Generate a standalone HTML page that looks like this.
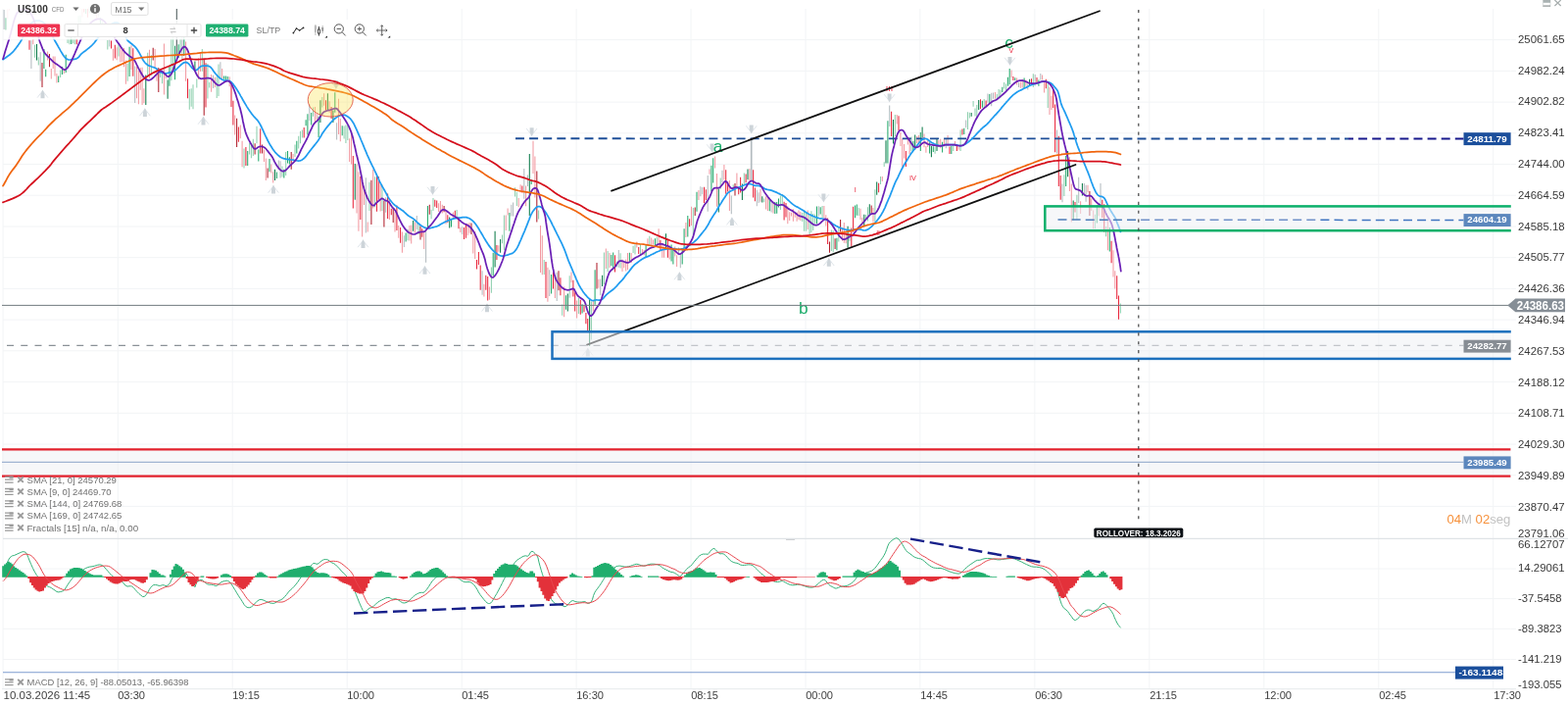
<!DOCTYPE html>
<html lang="es">
<head>
<meta charset="utf-8">
<title>US100 CFD M15</title>
<style>
html,body{margin:0;padding:0;background:#fff;}
body{width:1600px;height:718px;overflow:hidden;font-family:"Liberation Sans", Arial, sans-serif;}
svg{display:block;font-family:"Liberation Sans", Arial, sans-serif;}
</style>
</head>
<body>
<svg width="1600" height="718" viewBox="0 0 1600 718">
<rect width="1600" height="718" fill="#fff"/>
<g stroke="#f2f4f6" stroke-width="1" fill="none">
<path d="M3 9V702"/>
<path d="M120.3 9V702"/>
<path d="M237.2 9V702"/>
<path d="M354.2 9V702"/>
<path d="M471.2 9V702"/>
<path d="M588.1 9V702"/>
<path d="M705 9V702"/>
<path d="M822 9V702"/>
<path d="M938.9 9V702"/>
<path d="M1055.9 9V702"/>
<path d="M1172.8 9V702"/>
<path d="M1289.8 9V702"/>
<path d="M1406.8 9V702"/>
<path d="M1523.7 9V702"/>
<path d="M3 40.6H1541.5"/>
<path d="M3 72.4H1541.5"/>
<path d="M3 104.1H1541.5"/>
<path d="M3 135.8H1541.5"/>
<path d="M3 167.5H1541.5"/>
<path d="M3 199.2H1541.5"/>
<path d="M3 231H1541.5"/>
<path d="M3 262.7H1541.5"/>
<path d="M3 294.4H1541.5"/>
<path d="M3 326.1H1541.5"/>
<path d="M3 357.8H1541.5"/>
<path d="M3 389.6H1541.5"/>
<path d="M3 421.3H1541.5"/>
<path d="M3 453H1541.5"/>
<path d="M3 484.7H1541.5"/>
<path d="M3 516.4H1541.5"/>
<path d="M3 580H1541.5"/>
<path d="M3 610.6H1541.5"/>
<path d="M3 641.3H1541.5"/>
<path d="M3 672.5H1541.5"/>
</g>
<path d="M802 550H811" stroke="#b0b4b8" stroke-width="1.2"/>
<g id="candles">
<path d="M1143.4 309.5V319.5M1128.6 231V241.3M1117.4 218.8V233.3M1098.9 198.8V223.9M1085.9 178.3V200.1M1069.2 85.2V110M1054.3 75.2V88.9M1026.5 85.5V92M1024.6 84V90.4M1020.9 92V99.7M1019.1 91.1V99.2M1017.2 96.1V101.5M1004.2 101V111M996.8 107.1V120.7M995 110.4V118.6M993.1 102.9V108.8M989.4 114.8V120.5M987.5 114.3V132M980.1 132.6V153.9M972.7 147V153.9M954.1 149.7V156.7M930 139.6V154M913.3 117V138.9M902.2 165.2V170M898.5 180V188.1M892.9 193.2V226.4M885.5 211.3V225.4M883.6 218.9V223.2M876.2 212V220.1M866.9 238V245.9M855.8 231.4V246.4M850.2 235.3V257.3M848.4 234.4V255.9M839.1 210.1V222.3M831.7 218.6V228.3M829.8 218V235.1M827.9 215.3V237M826.1 218V238.9M822.4 216.5V235.8M820.5 214.3V235.8M818.7 217V226M798.3 198.1V210.2M796.4 199.5V214M779.7 202.5V206.2M759.3 176.4V188.9M748.2 188.2V193.5M735.2 181.4V192.7M707.3 212.1V239.4M670.2 241.4V251.4M662.8 240.7V250.1M653.5 248.9V259.7M648 249.3V259.6M646.1 250.8V258.1M633.1 258.3V273.6M629.4 266.7V272.2M620.1 256V277.3M616.4 257.6V290M603.4 307.6V346.5M590.4 303.8V320.1M581.2 281.3V303.8M573.7 310.5V321.8M555.2 265V280M549.6 214.4V223.4M527.3 195.7V210.1M525.5 191.3V200.4M514.4 219.4V255.2M512.5 239.4V248.2M501.4 272.5V298.8M466.1 214V222.5M442 201.9V215.1M440.1 213.8V223.2M427.1 227.6V238.9M416 233.9V245.2M390 188.5V215.1M382.6 180.2V211.3M377 185.7V215.1M354.8 128V143.1M352.9 127.5V146.1M351.1 128.6V141.4M328.8 99V109.5M319.5 109.5V118.8M308.4 132.6V140.6M306.5 133.8V146.3M304.7 138.8V151.4M301 147.6V160.1M291.7 155.1V178.9M288 169.5V180.4M262 128.8V146.3M258.3 141.8V159M256.4 146.1V161.3M254.6 145.9V157.6M249 151.4V171.4M223 65.6V97.9M221.2 78.2V99.9M213.7 84.1V89.6M211.9 65V100.5M206.3 50.1V72.7M200.8 80.4V89.5M197 86.3V111.2M195.2 90.3V108.8M193.3 90.8V111.7M184.1 39.1V54.2M176.6 35.7V73.5M174.8 39.6V82.2M165.5 75.1V85.2M163.6 73.2V79M154.4 56.3V76.8M150.7 53.8V78.8M130.2 65.1V82.7M121 45.1V57.6M109.8 40.9V50.6M104.3 21.9V27.3M91.3 9V13.5M82 15.5V26.8M80.1 16.3V26.4M76.4 37.4V45.3M74.6 38.5V44.3M70.9 37.5V45.2M69 38.2V44M61.6 71.4V78.9M39.3 58.3V66.6M35.6 45.8V58.8M5.9 18.3V30.5" stroke="#8fd0af" stroke-width="1.05" fill="none"/>
<path d="M1141.5 301.4V325.8M1139.7 281.3V305.1M1134.1 245.8V268.3M1126.7 208.2V236.4M1124.8 203.8V222M1097 205.9V216.6M1082.2 178.9V203.8M1080.3 138.8V190M1076.6 106.5V155.2M1074.7 91.3V110M1067.3 80.8V90.2M1058 78.9V85.2M1052.5 80.2V85.2M1033.9 78.1V82.1M1006.1 102.6V109.3M1000.5 101.3V110.9M982 131.4V137.6M976.4 148.3V153.9M969 149.5V157.1M924.4 153.9V170M917 118.2V133.3M909.6 113.8V138.9M896.6 186.8V196.3M870.6 210.7V236.4M868.8 232.6V251.4M844.6 222.6V248.9M802 206.9V221.4M800.1 205.7V224.5M770.4 191.4V205.2M768.6 173.2V201.4M761.1 177.4V186.2M755.6 180.8V196.4M753.7 191.7V198.2M742.6 185.4V195.4M740.7 173.2V197.7M720.3 193.3V203.9M718.5 190.8V207.1M703.6 223.2V231.3M681.4 243.9V262.7M673.9 245.1V255.1M651.7 252V258.9M627.5 260.2V277.5M599.7 325.1V337.8M597.9 318.9V330.2M596 311.7V318.2M592.3 305.7V320.8M586.7 298.2V317.6M584.9 285.7V302.6M571.9 283.2V301.3M564.5 277.5V294.4M557 266.9V304.1M532.9 189.5V196.4M506.9 250V265M497.7 281.9V306.4M495.8 280.7V295.7M490.2 270.6V295.7M488.4 257.1V270M486.5 265V274.4M475.4 228.2V242.7M473.5 232V243.9M468 221.4V233.3M464.3 214.8V222.9M456.8 219.2V226.9M445.7 204.4V212M443.8 203.8V210.7M430.8 233.3V241.7M408.6 232V247.7M404.9 209.4V235.1M399.3 212.8V219.2M395.6 197.6V223.1M386.3 180V203.8M384.5 177.7V215.7M367.8 180V223.9M360.3 158.9V212.6M338.1 109.1V121M332.5 102.2V112.6M310.2 129.9V140.4M265.7 131.3V156.4M250.9 150.1V168.9M243.4 129.4V144.8M237.9 102.7V127.5M236 86.4V108.9M210 64.3V109.5M191.5 80.2V100.2M135.8 49.2V77.8M117.3 45.8V59.6M113.5 41.5V49.5M89.4 9V17.8M85.7 9V12.5M78.3 39.2V45.3M30 41.3V50.7" stroke="#e9263c" stroke-width="1.05" fill="none"/>
<path d="M1137.8 276.3V294.5M1136 255.2V282.6M1130.4 225.1V255.2M1121.1 207.9V220.3M1115.6 214.5V233.3M1113.7 202.6V215.1M1110 188.8V196.3M1102.6 205.2V218M1093.3 187.5V226.4M1091.4 160.2V195M1072.9 97.8V111.9M1071 88.8V116.9M1065.5 82.4V94.6M1063.6 76.4V81.4M1046.9 81.4V87.7M1043.2 80.8V89.4M1041.3 83.5V89.7M1037.6 79.5V86.4M1032.1 71.4V78.9M1015.4 94V100.7M978.3 149.5V152.7M974.5 143.9V148.9M967.1 138.1V149.1M963.4 141.7V149.5M959.7 141.8V151.2M957.8 142.9V148.3M946.7 141.5V150.1M944.9 148.9V155.8M943 136.4V150.2M937.4 138V146.8M935.6 138.9V146M928.2 140.3V157.1M926.3 140.2V147.5M922.6 147V161.5M920.7 141.4V170M918.9 135.1V148.9M915.2 117V126.4M900.3 180V185M891 212V226.4M879.9 222V232M878 212.7V223.9M863.2 236.4V248.3M861.3 227V247.7M859.5 232.6V245.8M842.8 219.2V230.6M840.9 210.1V222.6M824.2 214.6V233.9M816.8 215.9V225M815 214.5V223.9M813.1 216.4V225.7M811.2 216.8V221.7M809.4 213.2V225.7M807.5 216.7V220.5M805.7 216.3V225.1M803.8 210.2V228.2M789 207.3V217.6M783.4 200.9V214.9M781.6 200.3V213.4M776 192.7V205.8M764.9 172V183.9M751.9 176.4V190.2M744.4 183.9V215M738.9 167.9V183.3M731.5 177V210.8M729.6 159.4V171.4M724 172.4V177.7M712.9 193.9V203.9M705.5 210.8V230.1M699.9 226.9V242M690.6 260.2V272.1M688.8 251.4V261.4M683.2 250.1V264.5M677.6 251.4V262.7M675.8 248.9V262.7M672.1 233.2V251.4M666.5 244.4V249.8M664.7 242.6V250.1M660.9 243.3V250.8M657.2 255.1V260.2M655.4 253.9V258.9M649.8 246.4V252.6M644.2 257.9V268M640.5 258V275.3M638.7 264.4V276.6M636.8 267.6V273.2M635 264.4V276.9M622 258V273M618.3 253.4V274.1M610.8 284.7V293.8M605.3 306V317.6M588.6 306.4V324.5M583 277.5V288.2M575.6 292.6V323.3M566.3 282.8V304.1M558.9 272.7V307.8M553.3 240.2V280.3M551.5 230.1V277.9M545.9 159.4V201.4M544 143.8V177M536.6 189.5V210.2M531.1 188.3V196.2M529.2 201.9V211.3M518.1 212.4V219.4M516.2 219.5V235.1M508.8 250.3V256.8M499.5 292.6V305.7M493.9 289.7V302.5M484.7 236.1V263.9M482.8 238.6V258.4M479.1 227V237.7M477.2 227.8V240M469.8 231.8V237M462.4 216.4V223.5M455 214.9V228.5M451.3 208.8V217.6M449.4 205.1V216.5M447.6 207.3V215.9M432.7 236.4V253.9M423.4 226.4V237.6M419.7 229.4V248.5M417.9 230V245.6M410.4 236.4V257.7M406.7 230.1V242.7M403 216.3V236.4M397.4 202.6V223.9M388.2 187.7V215.6M380.7 172.7V212.6M375.2 226.6V236.6M371.5 190.2V209M369.6 185.2V241.4M365.9 175.2V235.8M364 167.6V217.6M358.5 135.1V167.6M356.6 141.3V165.1M347.3 121V144.3M345.5 100.8V136.9M336.2 103.2V114.7M330.6 95.2V107.8M323.2 116.1V122.4M321.4 109.1V126.3M299.1 157V162.6M278.7 175.2V186.4M276.8 167.6V176.4M271.3 161.4V183.9M269.4 152.6V165.1M247.1 143.8V170.2M245.3 127.5V141.3M239.7 117.5V137.6M234.2 78.2V88.3M226.7 70.1V80.1M219.3 78.7V89M215.6 75.9V93.7M204.5 53.9V73.1M202.6 59.3V81M189.6 42.6V82.7M169.2 74.5V80.3M167.4 44.4V96.4M159.9 68.9V82.7M158.1 50.1V70.1M152.5 50.7V79.7M146.9 90.2V105.2M145.1 68.8V107M143.2 69V91.8M141.4 71.9V106.2M139.5 67.9V100.2M134 46.3V70.9M128.4 61.4V85.8M126.5 49V68.2M124.7 50.4V63M122.8 48.4V63.5M119.1 48.3V61.3M115.4 49.8V61.7M106.1 24.5V29.8M98.7 11.6V18.7M83.9 9V17.6M65.3 70.1V75.1M57.9 75.1V84.5M56 57.6V77.6M54.2 57.6V70.1M52.3 70.1V80.4M48.6 52.6V61.4M33.8 37.2V45.3M28.2 9V15.6M9.6 9V10.7M7.8 9.3V19.1" stroke="#f29aa2" stroke-width="1.05" fill="none"/>
<path d="M1132.3 232V256.4M1119.3 209.4V227.6M1087.7 158.9V190M1059.9 81.4V87.7M1045.1 79.5V90.2M1035.8 79.2V81.9M1030.2 69.9V86.2M1028.4 78.7V87.7M1022.8 88.8V93.9M1009.8 95.9V105.4M1002.4 102.7V109.8M983.8 130.8V137M970.8 148.9V157.1M961.6 144.8V155.6M952.3 149.3V154.9M948.6 145.2V156.4M939.3 135.1V153.9M931.9 143.9V153.9M905.9 123.2V166.5M874.3 208.6V219.8M872.5 209.5V222.2M853.9 242.7V255.2M837.2 211.3V218.4M833.5 210.5V228.2M794.5 202.6V211.5M792.7 206V217.7M790.8 206V218.1M785.3 203.2V215.2M727.7 161.3V186.4M725.9 168.8V195.2M711 195.8V215.7M701.8 220.1V241.4M698.1 233.2V252.6M696.2 253.3V269.5M686.9 253.9V269.5M685.1 249.5V266.4M668.4 243.2V250.1M659.1 250.1V262M642.4 257.8V266.4M625.7 257.6V275.2M623.8 260V271.3M607.1 275.2V310.7M594.1 310.3V319.6M577.4 301.3V315.8M562.6 280V299.5M542.2 183.1V188.1M519.9 217V235.8M503.2 257.7V281.3M460.5 223.9V231.4M436.4 210.1V232.6M414.1 237.6V246.4M349.2 128.2V138.2M341.8 94.2V114.7M325.1 118.8V140.1M317.7 115V127.5M313.9 116.3V137.6M312.1 122.2V128.2M302.8 143.8V156.4M295.4 160.3V167.5M293.5 153.9V166.4M289.8 172.7V181.4M282.4 175.5V181.9M275 162V175.2M263.8 152.4V164.4M252.7 153.9V168.9M232.3 78.1V81M230.4 77.4V81.7M228.6 77.6V80.8M187.8 37.3V56.9M182.2 45.3V59.1M178.5 46.7V81.3M172.9 67.6V87.7M132.1 47.7V78M108 30.5V37.3M102.4 18.1V27.8M95 9V9.4M93.1 9V9.8M87.6 9V14.1M72.7 37.4V45.1M67.2 55.7V73.9M63.4 68V76.1M59.7 77.6V83.9M46.7 70.8V78.3M44.9 50.1V70.1M26.3 9V13.3" stroke="#23a96c" stroke-width="1.05" fill="none"/>
<path d="M1123 186.9V212.6M1108.1 188.8V205.7M1106.3 186.9V198.8M1100.7 180.8V206.9M1084 187.5V206.3M1078.5 132.6V156.4M1061.8 75.1V81.4M1056.2 76.1V87.4M1048.8 85.2V91.4M1039.5 84.3V89.1M1013.5 94.6V100.8M1011.7 94.7V108.3M1007.9 95.4V104.8M985.7 122.6V130.3M965.3 141V151.3M907.7 107.6V128.9M835.4 210.2V220.4M787.1 203.9V216.5M774.1 196.2V206.9M772.3 193.7V210.2M746.3 199.5V218.2M737 173.8V186.1M722.2 178.9V215.7M716.6 191.1V198.2M714.8 190.2V200.2M694.3 258.9V273.3M692.5 252.4V260.2M631.3 255.1V272.7M612.7 284.6V301.3M568.2 277.8V306.9M560.7 275.2V302M538.5 178.4V189.9M534.8 172V202.7M523.6 206.6V220.5M521.8 208.8V220.6M492.1 276.3V300.7M471.7 231.3V238.9M434.6 233.9V267.7M425.3 220.1V233.9M412.3 240.2V252.1M393.7 201.2V216.8M373.3 181.3V237.6M343.6 125.2V142.5M315.8 106.2V123.1M286.1 164.3V181.4M284.3 163.6V172.9M224.9 63.2V80.1M217.5 76.7V89.9M185.9 37.3V60.3M137.7 67.6V105.1M111.7 40.5V47.5M100.6 9V17.2M96.8 9V14.7M41.2 53.2V82.7M31.9 41.3V70.1M4.1 10V30" stroke="#b3bbbf" stroke-width="1.05" fill="none"/>
<path d="M1111.9 195V220.1M889.2 209.4V217.6M857.6 223.9V236.4M852.1 243.3V253.9M846.5 246.4V257.7M750 187V199.5M709.2 211.5V220M609 268.1V294.4M570 276.3V296.3M547.8 174.5V226.4M481 227.6V238.9M453.1 210.1V216.3M438.3 208.8V218.8M429 230.8V244.5M401.2 212.6V227M391.9 205.1V231.4M378.9 183.8V228.9M297.2 155.1V172.7M273.1 171.4V181.4M267.6 147.6V156.4M260.1 146.3V157.6M241.6 120.7V150M208.2 60.1V117.7M161.8 68.9V93.9M156.2 48.8V61.4M50.5 55.1V68.2M43 63.9V88.9" stroke="#b01f2c" stroke-width="1.05" fill="none"/>
<path d="M1104.4 186.9V199.4M1095.2 204.4V224.5M1089.6 153.9V180.2M1050.6 80.8V87.7M998.7 101.9V112M991.2 115.1V118.8M956 141.4V153.9M950.4 148.9V160.2M941.1 129.5V140.2M933.7 137.6V152.7M911.5 122V146.4M904 143.3V166.5M894.7 185.6V198.8M887.3 208.2V218.8M881.8 218.8V230.1M865.1 230.8V252.7M777.8 200.2V206.4M763 172.6V183.3M757.4 187.6V203.9M733.3 192.7V216.5M679.5 238.2V255.1M614.6 280.8V291.9M601.6 305.7V352.7M579.3 299.5V317.6M540.3 156.9V220M510.6 243.9V257.7M505.1 235.8V272.5M458.7 221.4V232.6M421.6 225.1V235.8M362.2 167V203.8M339.9 112.6V125M334.4 95.2V111.9M326.9 102.2V125M280.5 172.7V183.9M198.9 62.6V72.6M171.1 81.4V100.8M148.8 76.4V107.1M37.5 45.1V61.4" stroke="#0d7c4a" stroke-width="1.05" fill="none"/>
<path d="M766.7 140.7V185.1" stroke="#b3bbbf" stroke-width="1.7" fill="none"/>
<path d="M180.3 9V57.6" stroke="#4d5a5a" stroke-width="1.05" fill="none"/>
</g>
<path d="M38.1 99.6L43.5 92.6L48.9 99.6" stroke="#dfe5ea" stroke-width="1" fill="none"/>
<path d="M43.5 91.4 L45.5 96 L45.5 100.3 L41.5 100.3 L41.5 96Z" fill="#cdd4d9" opacity="1"/>
<path d="M142.5 118.2L147.9 111.2L153.3 118.2" stroke="#dfe5ea" stroke-width="1" fill="none"/>
<path d="M147.9 110 L149.9 114.6 L149.9 118.9 L145.9 118.9 L145.9 114.6Z" fill="#cdd4d9" opacity="1"/>
<path d="M202.1 126.7L207.5 119.7L212.9 126.7" stroke="#dfe5ea" stroke-width="1" fill="none"/>
<path d="M207.5 118.5 L209.5 123.1 L209.5 127.4 L205.5 127.4 L205.5 123.1Z" fill="#cdd4d9" opacity="1"/>
<path d="M273.6 196.7L279 189.7L284.4 196.7" stroke="#dfe5ea" stroke-width="1" fill="none"/>
<path d="M279 188.5 L281 193.1 L281 197.4 L277 197.4 L277 193.1Z" fill="#cdd4d9" opacity="1"/>
<path d="M365.1 252.2L370.5 245.2L375.9 252.2" stroke="#dfe5ea" stroke-width="1" fill="none"/>
<path d="M370.5 244 L372.5 248.6 L372.5 252.9 L368.5 252.9 L368.5 248.6Z" fill="#cdd4d9" opacity="1"/>
<path d="M428.1 279L433.5 272L438.9 279" stroke="#dfe5ea" stroke-width="1" fill="none"/>
<path d="M433.5 270.8 L435.5 275.4 L435.5 279.7 L431.5 279.7 L431.5 275.4Z" fill="#cdd4d9" opacity="1"/>
<path d="M491.6 317.5L497 310.5L502.4 317.5" stroke="#dfe5ea" stroke-width="1" fill="none"/>
<path d="M497 309.3 L499 313.9 L499 318.2 L495 318.2 L495 313.9Z" fill="#cdd4d9" opacity="1"/>
<path d="M594.4 362.7L599.8 355.7L605.2 362.7" stroke="#dfe5ea" stroke-width="1" fill="none"/>
<path d="M599.8 354.5 L601.8 359.1 L601.8 363.4 L597.8 363.4 L597.8 359.1Z" fill="#cdd4d9" opacity="1"/>
<path d="M688 285.2L693.4 278.2L698.8 285.2" stroke="#dfe5ea" stroke-width="1" fill="none"/>
<path d="M693.4 277 L695.4 281.6 L695.4 285.9 L691.4 285.9 L691.4 281.6Z" fill="#cdd4d9" opacity="1"/>
<path d="M741.5 229.4L746.9 222.4L752.3 229.4" stroke="#dfe5ea" stroke-width="1" fill="none"/>
<path d="M746.9 221.2 L748.9 225.8 L748.9 230.1 L744.9 230.1 L744.9 225.8Z" fill="#cdd4d9" opacity="1"/>
<path d="M840.4 271L845.8 264L851.2 271" stroke="#dfe5ea" stroke-width="1" fill="none"/>
<path d="M845.8 262.8 L847.8 267.4 L847.8 271.7 L843.8 271.7 L843.8 267.4Z" fill="#cdd4d9" opacity="1"/>
<path d="M337.5 82.8L342.9 89.8L348.3 82.8" stroke="#dfe5ea" stroke-width="1" fill="none"/>
<path d="M342.9 91 L344.9 86.4 L344.9 82.1 L340.9 82.1 L340.9 86.4Z" fill="#cdd4d9" opacity="1"/>
<path d="M436.1 190.8L441.5 197.8L446.9 190.8" stroke="#dfe5ea" stroke-width="1" fill="none"/>
<path d="M441.5 199 L443.5 194.4 L443.5 190.1 L439.5 190.1 L439.5 194.4Z" fill="#cdd4d9" opacity="1"/>
<path d="M537.2 131L542.6 138L548 131" stroke="#dfe5ea" stroke-width="1" fill="none"/>
<path d="M542.6 139.2 L544.6 134.6 L544.6 130.3 L540.6 130.3 L540.6 134.6Z" fill="#cdd4d9" opacity="1"/>
<path d="M761.3 128.3L766.7 135.3L772.1 128.3" stroke="#dfe5ea" stroke-width="1" fill="none"/>
<path d="M766.7 136.5 L768.7 131.9 L768.7 127.6 L764.7 127.6 L764.7 131.9Z" fill="#cdd4d9" opacity="1"/>
<path d="M835 198.3L840.4 205.3L845.8 198.3" stroke="#dfe5ea" stroke-width="1" fill="none"/>
<path d="M840.4 206.5 L842.4 201.9 L842.4 197.6 L838.4 197.6 L838.4 201.9Z" fill="#cdd4d9" opacity="1"/>
<path d="M902.2 96.2L907.6 103.2L913 96.2" stroke="#dfe5ea" stroke-width="1" fill="none"/>
<path d="M907.6 104.4 L909.6 99.8 L909.6 95.5 L905.6 95.5 L905.6 99.8Z" fill="#cdd4d9" opacity="1"/>
<path d="M1025.1 58.8L1030.5 65.8L1035.9 58.8" stroke="#dfe5ea" stroke-width="1" fill="none"/>
<path d="M1030.5 67 L1032.5 62.4 L1032.5 58.1 L1028.5 58.1 L1028.5 62.4Z" fill="#cdd4d9" opacity="1"/>
<path d="M721.2 147.3L726.6 154.3L732 147.3" stroke="#dfe5ea" stroke-width="1" fill="none"/>
<path d="M726.6 155.5 L728.6 150.9 L728.6 146.6 L724.6 146.6 L724.6 150.9Z" fill="#cdd4d9" opacity="1"/>
<defs><linearGradient id="gA" gradientUnits="userSpaceOnUse" x1="526" y1="0" x2="1493.5" y2="0"><stop offset="0.879" stop-color="#1d4e98"/><stop offset="0.879" stop-color="#17188c"/></linearGradient><linearGradient id="gB" gradientUnits="userSpaceOnUse" x1="1079.5" y1="0" x2="1493.5" y2="0"><stop offset="0.2" stop-color="#4a7bb8"/><stop offset="0.2" stop-color="#6f90c8"/><stop offset="0.637" stop-color="#6f90c8"/><stop offset="0.637" stop-color="#3f74c0"/></linearGradient></defs>
<path d="M526 141.3L1493.5 141.5" stroke="url(#gA)" stroke-width="1.9" stroke-dasharray="9 5.1"/>
<path d="M3.1 60.7 L3.4 60.5 L4 60.1 L4.8 59.6 L5.9 58.8 L7 57.9 L8.2 57.1 L9.4 56.2 L10.7 55.2 L11.9 54.1 L13.2 52.9 L14.4 51.5 L15.7 49.9 L16.9 48.3 L18.2 46.6 L19.4 44.7 L20.7 42.9 L21.8 41 L22.9 39 L23.8 37 L24.7 35 L25.7 33 L26.7 31 L27.9 29 L29.1 27 L30.4 25.3 L31.6 23.9 L32.9 22.9 L34.1 22.1 L35.4 21.6 L36.6 21.2 L37.9 21 L39.1 21 L40.4 21.2 L41.6 21.6 L42.9 22.1 L44.1 22.9 L45.4 23.9 L46.6 25.3 L47.9 27 L49.1 29 L50.3 31 L51.5 33 L52.6 35 L53.6 37 L54.7 39.1 L55.8 41.2 L57 43.3 L58.3 45.5 L59.5 47.7 L60.8 49.9 L62 52.1 L63.3 54.3 L64.5 56.2 L65.6 57.7 L66.6 58.9 L67.5 59.8 L68.5 60.4 L69.6 60.8 L70.8 61 L72.1 60.9 L73.3 60.7 L74.6 60.6 L75.8 60.4 L77.1 60.2 L78.2 59.7 L79.3 59 L80.4 58.1 L81.3 56.9 L82.3 55.7 L83.4 54.7 L84.6 53.7 L85.8 52.7 L87.2 51.7 L88.6 50.6 L90.1 49.4 L91.6 48.2 L93.1 46.9 L94.5 45.5 L95.9 44 L97.1 42.4 L98.4 40.8 L99.6 39.1 L100.9 37.4 L102.1 35.6 L103.4 33.9 L104.8 32.3 L106.2 30.8 L107.8 29.2 L109.2 27.9 L110.8 26.6 L112.2 25.5 L113.8 24.5 L115.2 23.8 L116.6 23.2 L117.9 23 L119.1 23 L120.4 23.4 L121.6 24.3 L122.9 25.6 L124.1 27.4 L125.2 29.4 L126.2 31.5 L127.1 34 L127.9 36.6 L128.8 38.9 L129.8 40.7 L130.9 42 L132.2 43 L133.4 44 L134.7 45 L136 46.1 L137.2 47.2 L138.4 48.4 L139.5 49.7 L140.5 51.2 L141.4 52.7 L142.4 54.4 L143.3 56.1 L144.3 57.9 L145.2 59.8 L146.1 61.4 L147.1 62.8 L148 64 L149 65 L150 65.8 L151.1 66.5 L152.3 67.1 L153.5 67.5 L154.7 68 L155.8 68.4 L156.8 68.7 L157.7 69 L158.7 69.5 L159.6 70.1 L160.6 70.9 L161.5 71.8 L162.5 72.7 L163.6 73.4 L164.8 74 L166 74.4 L167.3 74.7 L168.5 74.8 L169.8 74.8 L171.1 74.5 L172.3 74.2 L173.6 73.9 L174.8 73.6 L176.1 73.2 L177.3 72.6 L178.6 71.8 L179.8 70.8 L181.1 69.5 L182.3 68.3 L183.6 67.1 L184.8 66 L186.1 64.9 L187.3 64.1 L188.4 63.6 L189.4 63.5 L190.3 63.6 L191.3 64.1 L192.2 64.8 L193.1 65.7 L194.1 67 L195.1 68.2 L196.1 69.3 L197.2 70.3 L198.3 71.2 L199.5 71.6 L200.7 71.3 L201.9 70.5 L203.1 69.1 L204.5 68 L205.9 67.3 L207.4 67 L208.9 67 L210.3 67 L211.6 67.2 L212.7 67.4 L213.6 67.8 L214.6 68.3 L215.5 69.2 L216.4 70.3 L217.4 71.7 L218.4 73.2 L219.5 74.6 L220.7 76 L221.9 77.4 L223.2 78.6 L224.4 79.7 L225.7 80.6 L226.9 81.3 L228.2 81.8 L229.4 82.1 L230.7 82.2 L232 82.1 L233.1 82.3 L234.2 82.6 L235.2 83.2 L236.2 84 L237.2 85 L238.3 86.4 L239.5 88 L240.7 89.8 L242 91.8 L243.2 93.8 L244.5 95.9 L245.7 98.1 L247 100.3 L248.2 102.5 L249.5 104.7 L250.8 106.9 L252.1 109.1 L253.5 111.3 L255 113.4 L256.5 115.6 L258 117.5 L259.4 119.2 L260.8 120.7 L262 121.9 L263.2 123.3 L264.3 124.9 L265.3 126.6 L266.3 128.5 L267.3 130.6 L268.4 132.9 L269.5 135.5 L270.8 138.4 L272.1 141 L273.3 143.5 L274.6 145.9 L275.8 148.1 L277.1 150.1 L278.3 152 L279.6 153.7 L280.8 155.3 L282.1 156.7 L283.3 157.9 L284.6 159 L285.8 160 L287.2 160.8 L288.6 161.4 L290.1 161.8 L291.6 162.2 L293.2 162.4 L294.8 162.7 L296.3 162.9 L297.9 163 L299.4 163.2 L300.8 163.5 L302.1 163.7 L303.4 164 L304.6 164.1 L305.9 164 L307.1 163.6 L308.4 162.9 L309.6 162 L310.9 160.9 L312.2 159.4 L313.4 157.7 L314.7 156 L315.9 154.4 L317.2 152.8 L318.4 151.2 L319.7 149.6 L320.9 148.1 L322.2 146.5 L323.4 144.9 L324.7 143.2 L325.9 141.3 L327.2 139.3 L328.4 137.1 L329.7 135.1 L331 133.2 L332.2 131.5 L333.5 129.9 L334.7 128.4 L336 126.9 L337.2 125.4 L338.5 124 L339.7 122.7 L341 121.6 L342.2 120.5 L343.5 119.6 L344.7 118.8 L346 118.1 L347.2 117.7 L348.5 117.4 L349.7 117.2 L350.8 117.2 L351.8 117.4 L352.7 117.7 L353.7 118.2 L354.8 118.9 L356 119.8 L357.3 120.9 L358.4 122.2 L359.5 123.7 L360.6 125.4 L361.5 127.2 L362.5 129.3 L363.6 131.7 L364.8 134.3 L366 137.1 L367.3 140 L368.5 143 L369.8 146 L371.1 149.2 L372.3 152.2 L373.6 155.2 L374.8 158.1 L376.1 160.9 L377.3 163.6 L378.6 166.3 L379.8 168.9 L381.1 171.4 L382.3 174 L383.6 176.7 L384.8 179.4 L386.1 182.2 L387.3 184.9 L388.6 187.4 L389.8 189.7 L391.1 191.9 L392.3 194 L393.3 195.9 L394.3 197.7 L395.1 199.4 L396.1 201.1 L397.1 202.7 L398.3 204.3 L399.5 205.8 L400.8 207.3 L402 208.5 L403.3 209.6 L404.5 210.5 L405.8 211.4 L407 212.3 L408.3 213.1 L409.5 213.9 L410.8 214.8 L412.1 215.8 L413.3 217 L414.6 218.2 L415.8 219.3 L417.1 220.3 L418.3 221 L419.6 221.7 L420.8 222.4 L422.1 223.4 L423.3 224.5 L424.6 225.7 L425.8 226.9 L427.1 228 L428.3 229 L429.6 230 L430.9 230.8 L432.1 231.5 L433.4 232.1 L434.6 232.6 L435.9 232.8 L437.1 232.9 L438.4 232.8 L439.6 232.5 L440.9 232.2 L442.1 231.8 L443.4 231.5 L444.6 231.2 L445.9 230.8 L447.1 230.2 L448.4 229.6 L449.6 228.8 L451 228 L452.4 227.2 L453.9 226.4 L455.4 225.7 L457 225 L458.6 224.3 L460.1 223.8 L461.7 223.3 L463.3 222.9 L464.8 222.6 L466.4 222.4 L468 222.2 L469.5 222.1 L470.9 221.9 L472.2 221.7 L473.5 221.6 L474.7 221.6 L476 221.7 L477.2 222.1 L478.5 222.5 L479.7 223.2 L481 224.1 L482.2 225.1 L483.5 226.4 L484.7 227.8 L486 229.5 L487.2 231.3 L488.5 233.3 L489.7 235.4 L491 237.5 L492.3 239.7 L493.5 241.9 L494.8 244 L496 246 L497.3 248 L498.5 249.9 L499.8 251.6 L501 253.2 L502.3 254.6 L503.5 255.8 L504.8 257 L506 258 L507.3 259 L508.5 259.9 L509.8 260.5 L511.1 260.9 L512.3 261.1 L513.6 261 L514.8 260.8 L516.1 260.5 L517.3 260.2 L518.6 259.8 L519.7 259.4 L520.8 259 L521.9 258.6 L522.8 258.3 L523.7 257.7 L524.7 256.8 L525.6 255.8 L526.6 254.6 L527.5 253.1 L528.4 251.4 L529.4 249.4 L530.3 247.2 L531.3 245 L532.2 242.8 L533.1 240.6 L534.1 238.4 L535.1 236.1 L536.1 233.6 L537.2 230.9 L538.3 228.1 L539.2 225.7 L540 223.8 L540.5 222.4 L540.8 221.4 L541.3 220.4 L541.7 219.3 L542.3 218.2 L542.9 217 L543.6 215.8 L544.4 214.7 L545.3 213.6 L546.2 212.5 L547.1 211.6 L548.1 211 L549 210.7 L550 210.6 L550.9 210.7 L551.8 211.1 L552.8 211.8 L553.7 212.6 L554.7 213.7 L555.6 214.9 L556.5 216.2 L557.5 217.7 L558.3 219.1 L559.1 220.4 L559.8 221.7 L560.5 222.8 L561.2 224.2 L562 225.7 L562.9 227.5 L563.9 229.6 L565 231.7 L566.1 234 L567.3 236.4 L568.5 238.9 L569.8 241.4 L571 243.9 L572.3 246.4 L573.5 248.9 L574.7 251.6 L575.9 254.4 L577 257.3 L578.1 260.4 L579.1 263.2 L580 265.6 L580.9 267.8 L581.7 269.7 L582.5 271.7 L583.4 273.7 L584.3 275.8 L585.2 278 L586.1 280.2 L587.1 282.4 L588 284.6 L589 286.8 L589.9 288.8 L590.8 290.7 L591.8 292.4 L592.7 294 L593.7 295.5 L594.6 296.9 L595.5 298.2 L596.5 299.5 L597.4 300.6 L598.4 301.7 L599.3 302.8 L600.2 303.7 L601.1 304.5 L602 305.2 L602.8 305.8 L603.6 306.3 L604.4 306.5 L605.2 306.6 L606 306.5 L606.7 306.2 L607.6 306 L608.7 305.9 L609.8 306 L611.1 306.1 L612.1 306.1 L613.1 306 L613.9 305.6 L614.5 305.2 L615.2 304.6 L616 303.8 L616.8 302.8 L617.8 301.7 L618.8 300.7 L619.9 299.7 L621.1 298.7 L622.3 297.7 L623.5 296.8 L624.6 296 L625.6 295.2 L626.6 294.4 L627.5 293.5 L628.4 292.6 L629.4 291.6 L630.3 290.5 L631.3 289.4 L632.2 288.4 L633.1 287.4 L634.1 286.5 L635.1 285.4 L636.1 284.1 L637.2 282.7 L638.3 281.1 L639.2 279.9 L640 279 L640.5 278.4 L640.8 278.1 L641.4 277.5 L642.2 276.5 L643.2 275.1 L644.5 273.4 L645.7 271.9 L647 270.5 L648.2 269.4 L649.5 268.5 L650.8 267.5 L652 266.6 L653.3 265.6 L654.5 264.7 L655.8 263.9 L657 263.2 L658.3 262.6 L659.5 262.1 L660.8 261.6 L662 261.1 L663.3 260.5 L664.5 259.8 L665.8 259.2 L667 258.6 L668.3 258 L669.5 257.3 L670.8 256.7 L672.1 256.2 L673.3 255.7 L674.6 255.2 L675.8 254.8 L677.1 254.5 L678.3 254.3 L679.6 254.1 L680.8 254 L682.1 253.8 L683.3 253.6 L684.6 253.5 L685.8 253.5 L687.1 253.5 L688.3 253.7 L689.6 254 L690.9 254.2 L692.1 254.3 L693.4 254.3 L694.6 254.1 L695.9 253.8 L697.1 253.5 L698.4 252.9 L699.6 252.3 L700.9 251.7 L702.1 250.9 L703.4 250.2 L704.6 249.4 L705.9 248.6 L707.1 247.6 L708.4 246.6 L709.6 245.5 L710.9 244.3 L712.2 243 L713.4 241.5 L714.7 239.9 L715.9 238.4 L717.2 236.8 L718.4 235.2 L719.7 233.7 L720.8 232 L721.9 230.3 L723 228.5 L723.9 226.6 L724.9 224.7 L726 222.9 L727.2 221 L728.4 219.1 L729.7 217.2 L731 215.1 L732.2 213 L733.5 210.8 L734.7 208.7 L736 206.7 L737.2 204.7 L738.5 202.8 L739.6 201.2 L740.5 199.8 L741.2 198.7 L741.8 197.8 L742.5 196.9 L743.5 196.2 L744.5 195.5 L745.8 194.8 L747 194.2 L748.3 193.6 L749.5 193 L750.8 192.3 L752.1 191.8 L753.3 191.2 L754.6 190.7 L755.8 190.2 L757.1 189.7 L758.3 189.2 L759.6 188.7 L760.8 188.2 L762 187.8 L763.1 187.6 L764.1 187.5 L765.1 187.6 L766 187.7 L766.9 188 L767.9 188.3 L768.8 188.8 L769.8 189.1 L770.7 189.3 L771.6 189.4 L772.6 189.3 L773.5 189.3 L774.5 189.5 L775.4 189.8 L776.3 190.2 L777.3 190.6 L778.2 191.1 L779.2 191.7 L780.1 192.3 L781.1 192.9 L782.2 193.2 L783.4 193.5 L784.6 193.7 L785.9 193.9 L787.1 194.2 L788.4 194.6 L789.6 195.1 L790.9 195.6 L792.2 196.1 L793.4 196.7 L794.7 197.4 L795.8 197.9 L796.9 198.5 L798 199 L798.9 199.5 L799.9 200.1 L801 201 L802.2 202.1 L803.4 203.3 L804.7 204.5 L805.9 205.7 L807.2 206.8 L808.4 207.9 L809.7 208.9 L811 209.8 L812.2 210.5 L813.5 211.1 L814.7 211.8 L816 212.5 L817.2 213.3 L818.5 214 L819.7 214.8 L821 215.6 L822.2 216.4 L823.5 217.2 L824.6 217.9 L825.7 218.5 L826.7 219 L827.6 219.4 L828.6 219.9 L829.8 220.5 L831.2 221 L832.8 221.7 L834.4 222.2 L835.9 222.6 L837.5 222.8 L839.1 223 L840.5 223.3 L842 223.7 L843.3 224.2 L844.5 224.8 L845.8 225.5 L847 226.3 L848.3 227.1 L849.5 228.1 L850.8 229 L852.1 229.7 L853.3 230.4 L854.6 231.1 L855.8 231.7 L857.1 232.2 L858.3 232.7 L859.6 233.2 L860.9 233.6 L862.3 234 L863.8 234.4 L865.4 234.7 L866.9 234.8 L868.3 234.8 L869.6 234.7 L870.9 234.4 L872.1 234.1 L873.4 234 L874.6 233.9 L875.9 233.9 L877.1 234 L878.4 234.2 L879.6 234.5 L880.9 234.9 L882.1 235 L883.4 234.9 L884.6 234.4 L885.9 233.7 L887.1 232.9 L888.4 231.9 L889.6 230.8 L890.9 229.5 L892.2 228.2 L893.4 226.8 L894.7 225.3 L895.9 223.7 L897.1 222.1 L898.2 220.6 L899.2 219 L900.1 217.4 L901.1 215.7 L902 213.8 L903 211.8 L903.9 209.6 L904.8 207.4 L905.8 205.2 L906.7 203 L907.7 200.8 L908.6 198.6 L909.5 196.2 L910.5 193.8 L911.4 191.3 L912.4 188.9 L913.3 186.7 L914.2 184.7 L915.2 182.8 L916.2 180.8 L917.2 178.6 L918.4 176.2 L919.6 173.7 L920.7 171.5 L921.8 169.5 L922.8 167.7 L923.7 166.2 L924.6 164.7 L925.6 163.2 L926.5 161.6 L927.5 160 L928.4 158.6 L929.3 157.1 L930.3 155.8 L931.2 154.6 L932.2 153.3 L933.1 152.1 L934 150.8 L935 149.5 L935.9 148.3 L936.9 147 L937.8 145.8 L938.7 144.5 L939.7 143.5 L940.6 142.7 L941.6 142.1 L942.5 141.7 L943.4 141.5 L944.1 141.4 L944.8 141.5 L945.5 141.7 L946.2 142.1 L947 142.6 L947.8 143.2 L948.8 144 L949.8 144.7 L950.9 145.4 L952.1 146.1 L953.3 146.7 L954.6 147.3 L955.8 147.7 L957.1 148.1 L958.3 148.5 L959.6 148.6 L960.8 148.6 L962.1 148.4 L963.3 148 L964.6 147.7 L965.8 147.6 L967.1 147.5 L968.3 147.6 L969.6 147.6 L970.9 147.7 L972.1 147.7 L973.4 147.7 L974.6 147.7 L975.9 147.9 L977.1 148.1 L978.4 148.5 L979.5 148.6 L980.6 148.6 L981.7 148.5 L982.6 148.1 L983.5 147.7 L984.5 147.3 L985.4 146.7 L986.4 146.1 L987.4 145.4 L988.5 144.5 L989.6 143.5 L990.9 142.4 L992.2 141.2 L993.4 140 L994.7 138.7 L995.9 137.3 L997.2 135.9 L998.4 134.6 L999.7 133.3 L1000.9 132 L1002.2 130.8 L1003.4 129.7 L1004.7 128.7 L1005.9 127.8 L1007.2 126.7 L1008.4 125.4 L1009.7 124 L1011 122.4 L1012.2 121 L1013.5 119.6 L1014.7 118.2 L1016 117 L1017.2 115.6 L1018.5 114.2 L1019.7 112.7 L1021 111.2 L1022.2 109.6 L1023.5 108.2 L1024.7 106.7 L1026 105.3 L1027.2 103.9 L1028.5 102.5 L1029.7 101.1 L1031 99.7 L1032.3 98.4 L1033.5 97.2 L1034.8 96.1 L1036 95.2 L1037.3 94.3 L1038.5 93.5 L1039.8 92.8 L1041 92.2 L1042.3 91.6 L1043.5 91 L1044.8 90.3 L1046 89.7 L1047.3 89.1 L1048.5 88.5 L1049.8 87.8 L1051.1 87.2 L1052.3 86.7 L1053.6 86.2 L1054.8 85.8 L1056.1 85.5 L1057.3 85.1 L1058.6 84.7 L1059.8 84.3 L1061.1 83.8 L1062.3 83.5 L1063.6 83.3 L1064.8 83.1 L1066.1 83.1 L1067.3 83.3 L1068.6 83.5 L1069.8 83.8 L1071.1 84.3 L1072.3 84.9 L1073.4 85.7 L1074.4 86.7 L1075.3 87.8 L1076.2 88.9 L1077.1 89.9 L1078 91 L1078.8 92.1 L1079.6 93.7 L1080.3 95.9 L1081 98.5 L1081.7 101.6 L1082.4 104.4 L1083.2 106.9 L1084.1 109.1 L1085 111 L1085.9 112.9 L1086.9 115 L1087.8 117.1 L1088.8 119.3 L1089.7 121.5 L1090.6 123.7 L1091.6 125.8 L1092.5 128 L1093.4 130.2 L1094.2 132.2 L1094.9 134.1 L1095.5 136 L1096.1 138 L1096.8 140 L1097.4 142.1 L1098 144.3 L1098.7 146.4 L1099.4 148.5 L1100.1 150.4 L1100.9 152.3 L1101.7 154.3 L1102.5 156.3 L1103.3 158.4 L1104 160.6 L1104.8 162.7 L1105.6 164.8 L1106.4 166.7 L1107.2 168.6 L1108 170.5 L1108.7 172.4 L1109.5 174.2 L1110.3 176.1 L1111 178 L1111.7 179.8 L1112.4 181.7 L1113 183.5 L1113.6 185.3 L1114.3 187 L1114.9 188.6 L1115.5 190.2 L1116.1 191.7 L1116.8 193.1 L1117.4 194.4 L1118 195.7 L1118.6 196.8 L1119.3 197.7 L1119.9 198.5 L1120.5 199.1 L1121.2 199.6 L1121.9 200 L1122.6 200.2 L1123.4 200.3 L1124.2 200.4 L1124.9 200.7 L1125.5 201 L1126.2 201.4 L1126.8 202 L1127.4 202.9 L1128 204 L1128.7 205.5 L1129.3 206.9 L1130 208.4 L1130.8 209.9 L1131.6 211.5 L1132.3 213 L1133.1 214.4 L1133.9 215.7 L1134.7 217 L1135.4 218.1 L1136.1 219.2 L1136.8 220.3 L1137.4 221.2 L1138 222.3 L1138.6 223.4 L1139.1 224.7 L1139.5 226.1 L1140 227.5 L1140.5 228.7 L1141 229.9 L1141.4 231 L1141.9 232 L1142.2 233.1 L1142.6 234 L1142.9 235 L1143.1 235.7 L1143.3 236.2 L1143.4 236.4" stroke="#1f9cf0" stroke-width="1.75" fill="none" stroke-linejoin="round" stroke-linecap="round" />
<path d="M3.1 60.1 L3.3 59.4 L3.7 58 L4.3 55.9 L5.1 53 L5.9 50.4 L6.7 47.9 L7.5 45.5 L8.2 43.3 L9.1 40.6 L10 37.3 L11.1 33.4 L12.2 29.1 L13.2 25.2 L14.1 21.8 L15 18.9 L15.8 16.6 L16.7 14.5 L17.7 12.8 L18.9 11.5 L20.1 10.5 L21.4 9.8 L22.6 9.4 L23.9 9.4 L25.1 9.6 L26.4 10.1 L27.6 10.7 L28.9 11.5 L30.1 12.5 L31.3 13.9 L32.4 15.6 L33.5 17.8 L34.5 20.2 L35.4 22.9 L36.3 25.6 L37.1 28.5 L37.9 31.5 L38.5 34.1 L39 36.2 L39.4 38 L39.7 39.3 L40.1 40.7 L40.5 42.1 L41 43.7 L41.7 45.2 L42.3 46.8 L42.9 48.4 L43.5 49.9 L44.2 51.5 L45 53 L45.9 54.4 L47 55.7 L48.2 57 L49.5 58.2 L50.8 59.5 L52 60.7 L53.3 62 L54.5 63.1 L55.8 64.1 L57 65 L58.3 65.8 L59.4 66.6 L60.5 67.4 L61.6 68.2 L62.5 69 L63.4 69.6 L64.1 70.2 L64.8 70.7 L65.5 71.1 L66.2 71.1 L67 70.8 L67.8 70.1 L68.8 69.1 L69.7 67.9 L70.6 66.5 L71.6 64.8 L72.5 62.9 L73.5 61 L74.4 58.9 L75.3 56.8 L76.3 54.6 L77.2 52.4 L78.2 50.2 L79.1 48 L80 45.8 L80.9 44 L81.6 42.4 L82.2 41.1 L82.6 40.2 L83.1 39.1 L83.7 37.8 L84.3 36.2 L85 34.5 L85.8 32.9 L86.6 31.3 L87.5 29.8 L88.5 28.2 L89.6 26.8 L90.7 25.4 L91.9 24.1 L93.1 22.9 L94.4 21.8 L95.6 20.9 L96.9 20.2 L98.1 19.8 L99.4 19.4 L100.6 19.3 L101.9 19.4 L103.1 19.6 L104.4 20.2 L105.6 21.1 L106.9 22.2 L108.1 23.8 L109.3 25.3 L110.4 26.9 L111.5 28.6 L112.5 30.4 L113.5 32.1 L114.5 33.9 L115.4 35.6 L116.4 37.4 L117.3 39 L118.3 40.5 L119.2 41.9 L120.1 43.2 L121.2 44.6 L122.3 46.2 L123.4 47.9 L124.7 49.8 L125.9 51.4 L127.2 52.9 L128.4 54.2 L129.7 55.3 L131 56.3 L132.2 57.3 L133.5 58.1 L134.7 58.9 L135.8 59.8 L136.7 60.8 L137.5 62 L138.2 63.2 L138.9 64.6 L139.6 66.2 L140.5 67.9 L141.4 69.8 L142.4 71.6 L143.3 73.3 L144.3 75 L145.2 76.5 L146.1 77.9 L147.1 79.1 L148 80.1 L149 80.9 L149.9 81.4 L150.8 81.7 L151.8 81.8 L152.7 81.6 L153.7 81.2 L154.8 80.5 L156 79.5 L157.3 78.3 L158.5 77 L159.8 75.8 L161 74.5 L162.3 73.3 L163.5 72.6 L164.6 72.4 L165.6 72.8 L166.5 73.7 L167.4 74.7 L168.4 75.6 L169.3 76.5 L170.3 77.5 L171.2 78 L172.1 78 L173.1 77.5 L174 76.5 L175 75.1 L175.9 73.3 L176.8 70.9 L177.8 68.1 L178.7 65.3 L179.7 62.7 L180.6 60.1 L181.5 57.6 L182.5 55.3 L183.4 53.3 L184.4 51.6 L185.3 50.1 L186.2 48.9 L187 48.1 L187.7 47.7 L188.3 47.7 L188.9 47.9 L189.5 48.3 L190.2 49 L190.8 49.9 L191.5 51.4 L192.3 53.4 L193.1 56 L194.1 59.2 L195.1 62.2 L196.1 65.2 L197.2 68.1 L198.3 70.9 L199.4 73.4 L200.4 75.5 L201.4 77.2 L202.3 78.6 L203.4 79.6 L204.5 80.2 L205.6 80.4 L206.9 80.2 L208.2 80 L209.6 79.9 L211.1 79.7 L212.7 79.6 L214.1 79.8 L215.4 80.3 L216.4 81.1 L217.4 82.2 L218.4 83.3 L219.4 84.4 L220.4 85.4 L221.5 86.4 L222.6 86.9 L223.7 87 L224.8 86.6 L225.9 85.8 L227.1 85 L228.2 84.3 L229.4 83.6 L230.7 82.9 L231.8 82.6 L232.9 82.6 L233.8 82.9 L234.5 83.6 L235.3 84.5 L236.1 85.6 L236.9 87.1 L237.7 88.8 L238.5 90.8 L239.4 93.1 L240.3 95.6 L241.2 98.5 L242.1 101.4 L243.1 104.3 L244 107.4 L245 110.5 L245.8 113.7 L246.6 117 L247.3 120.3 L247.9 123.7 L248.6 126.8 L249.2 129.6 L249.8 132.1 L250.4 134.3 L251.1 136.4 L251.9 138.4 L252.8 140.4 L253.7 142.3 L254.7 144.1 L255.7 146 L256.8 147.9 L257.9 149.8 L258.9 151.1 L259.8 151.8 L260.7 151.9 L261.5 151.4 L262.2 151 L262.9 150.5 L263.6 150.1 L264.2 149.7 L265 149.5 L265.9 149.4 L267 149.5 L268.3 149.7 L269.5 150.2 L270.6 151 L271.6 152 L272.5 153.2 L273.5 154.4 L274.4 155.6 L275.3 156.8 L276.3 157.9 L277.2 159.2 L278.2 160.8 L279.1 162.6 L280 164.6 L281 166.4 L281.9 168.1 L282.9 169.5 L283.8 170.8 L284.7 171.9 L285.7 172.9 L286.6 173.7 L287.6 174.4 L288.5 174.7 L289.4 174.7 L290.4 174.4 L291.3 173.7 L292.3 172.9 L293.2 172 L294.1 171 L295.1 169.9 L296 168.9 L297 168 L297.9 167.1 L298.8 166.3 L299.8 165.4 L300.7 164.4 L301.7 163.3 L302.6 162 L303.5 160.5 L304.5 158.8 L305.4 156.8 L306.4 154.6 L307.4 152.4 L308.5 150.3 L309.6 148.1 L310.9 145.9 L312.1 143.7 L313.2 141.5 L314.2 139.3 L315.1 137.1 L316.1 134.9 L317 132.8 L318 130.8 L318.9 128.7 L319.9 127 L321 125.5 L322.2 124.3 L323.4 123.3 L324.6 122.2 L325.7 120.8 L326.7 119.3 L327.7 117.6 L328.6 116.2 L329.5 115.1 L330.5 114.3 L331.4 113.8 L332.4 113.4 L333.5 113 L334.7 112.7 L336 112.3 L337.2 112 L338.5 111.6 L339.7 111.2 L341 110.7 L342.1 110.5 L343 110.6 L343.8 110.9 L344.4 111.6 L345.2 112.5 L346.1 113.6 L347.2 115.1 L348.5 116.8 L349.7 118.6 L351 120.5 L352.3 122.5 L353.5 124.5 L354.7 126.6 L355.8 128.7 L356.8 130.8 L357.7 133 L358.6 135.4 L359.4 137.9 L360.1 140.5 L360.7 143.4 L361.3 146.2 L362 149 L362.6 151.8 L363.2 154.6 L363.8 157.4 L364.5 160 L365.1 162.6 L365.7 165.1 L366.4 167.8 L367 170.6 L367.6 173.6 L368.2 176.7 L368.8 179.5 L369.2 181.8 L369.5 183.7 L369.7 185.2 L370.1 186.9 L370.5 188.8 L371 190.8 L371.6 193 L372.3 195.2 L373.1 197.4 L374 199.6 L374.9 201.8 L375.9 203.8 L376.9 205.6 L378 207.2 L379.1 208.6 L380.1 209.4 L381 209.6 L381.9 209.3 L382.7 208.4 L383.5 207.5 L384.4 206.6 L385.3 205.8 L386.2 205 L387.1 204.3 L387.9 203.7 L388.6 203.1 L389.2 202.6 L389.8 202.4 L390.4 202.5 L391.1 202.9 L391.7 203.5 L392.4 204 L393.2 204.4 L394 204.7 L395 204.8 L395.9 205.3 L396.9 206.2 L397.8 207.4 L398.7 209 L399.7 210.4 L400.6 211.6 L401.6 212.7 L402.5 213.7 L403.4 214.8 L404.1 216 L404.8 217.4 L405.5 219 L406.2 220.6 L407 222.4 L407.8 224.2 L408.8 226.1 L409.7 227.8 L410.6 229.5 L411.6 231 L412.5 232.4 L413.5 233.6 L414.4 234.7 L415.3 235.7 L416.3 236.5 L417.3 237.2 L418.4 237.8 L419.6 238.3 L420.8 238.8 L422 239 L423.1 238.9 L424.1 238.6 L425.1 238 L426 237.4 L426.9 237.1 L427.9 236.8 L428.8 236.6 L429.7 236.5 L430.6 236.4 L431.4 236.4 L432.2 236.4 L433 236.2 L433.8 235.7 L434.5 235 L435.3 234 L436.1 233.1 L437 232.2 L437.9 231.2 L438.8 230.3 L439.8 229.3 L440.7 228.2 L441.7 227 L442.6 225.7 L443.5 224.5 L444.5 223.2 L445.4 222 L446.4 220.7 L447.2 219.5 L448 218.3 L448.7 217.2 L449.3 216.1 L450 215.2 L450.7 214.6 L451.5 214.1 L452.2 213.9 L453 213.9 L453.8 214 L454.6 214.4 L455.4 214.9 L456.2 215.5 L457.1 216.2 L458 216.9 L458.9 217.7 L459.8 218.4 L460.8 219 L461.7 219.6 L462.7 220 L463.6 220.5 L464.5 221.1 L465.5 221.7 L466.4 222.3 L467.3 223 L468.3 223.8 L469.2 224.6 L470.2 225.6 L471.1 226.4 L472 227.1 L473 227.7 L473.9 228.2 L474.9 228.6 L475.8 229.1 L476.7 229.6 L477.7 230 L478.6 230.7 L479.6 231.5 L480.5 232.4 L481.4 233.5 L482.4 234.8 L483.3 236.3 L484.3 238 L485.2 239.8 L486.1 241.9 L487.1 244.1 L488 246.4 L489 248.9 L489.9 251.4 L490.8 253.7 L491.8 256 L492.7 258.2 L493.6 260.4 L494.3 262.7 L495 265.1 L495.5 267.6 L496.1 269.9 L496.7 272.1 L497.3 274.1 L498 276 L498.6 277.7 L499.3 279.3 L500.1 280.7 L500.9 281.9 L501.6 282.7 L502.4 283 L503.2 282.9 L504 282.2 L504.8 281.4 L505.7 280.3 L506.6 278.9 L507.5 277.4 L508.4 275.7 L509.3 274 L510.1 272.2 L510.9 270.3 L511.6 268.5 L512.3 266.8 L512.9 265.2 L513.4 263.7 L513.9 262 L514.5 260 L515.1 257.7 L515.8 255.2 L516.5 252.6 L517.2 249.9 L518.1 247.2 L519 244.4 L520 241.6 L520.9 238.7 L521.9 235.9 L522.8 233.1 L523.7 230.3 L524.7 227.5 L525.6 224.6 L526.6 221.8 L527.5 219.3 L528.4 217.1 L529.4 215.2 L530.3 213.7 L531.3 212.1 L532.2 210.5 L533.1 209 L534.1 207.4 L535.1 206 L536.1 204.7 L537.2 203.7 L538.3 202.7 L539.3 201.6 L540.1 200.4 L540.7 199 L541.2 197.5 L541.8 196.1 L542.3 195 L542.9 194 L543.5 193.2 L544.2 192.6 L544.8 192.2 L545.4 191.9 L546.1 191.8 L546.6 191.9 L547.2 192.1 L547.7 192.5 L548.2 193.1 L548.7 194 L549.2 195.4 L549.8 197.2 L550.4 199.4 L551.1 201.7 L551.7 204 L552.3 206.4 L552.9 208.9 L553.6 211.3 L554.2 213.4 L554.8 215.4 L555.5 217.2 L556 219.2 L556.5 221.4 L556.8 223.7 L557.1 226.2 L557.6 229.5 L558.2 233.6 L559 238.5 L560 244.2 L560.8 249.2 L561.4 253.6 L561.9 257.3 L562.3 260.4 L562.6 263.2 L563 265.6 L563.3 267.8 L563.6 269.7 L563.9 271.7 L564.3 273.7 L564.8 275.8 L565.2 278 L565.7 280 L566.2 281.7 L566.6 283.2 L567.1 284.4 L567.7 285.7 L568.4 286.9 L569.2 288.2 L570.2 289.4 L571.1 290.6 L571.9 291.6 L572.8 292.5 L573.5 293.3 L574.4 294 L575.3 294.6 L576.4 295.1 L577.5 295.5 L578.5 295.7 L579.5 295.8 L580.5 295.7 L581.4 295.5 L582.3 295.2 L583.1 294.9 L583.8 294.7 L584.4 294.4 L585 294.5 L585.6 294.8 L586.1 295.4 L586.5 296.3 L587 297.2 L587.5 298.1 L587.9 299 L588.4 299.9 L589 300.8 L589.6 301.6 L590.3 302.3 L591.1 302.9 L591.9 303.5 L592.6 304 L593.4 304.6 L594.2 305 L594.9 305.6 L595.5 306.2 L596.1 306.9 L596.6 307.7 L597 308.7 L597.5 310.1 L598 311.7 L598.4 313.6 L598.9 315.2 L599.4 316.7 L599.9 318 L600.3 319.1 L600.8 320.1 L601.3 320.8 L601.7 321.5 L602.2 321.9 L602.7 322.1 L603.3 322.1 L603.8 321.7 L604.5 321.1 L605.1 320.3 L605.7 319.4 L606.4 318.3 L607 317 L607.7 315.8 L608.5 314.5 L609.3 313.2 L610.3 312 L611.1 310.7 L611.9 309.3 L612.6 307.8 L613.2 306.2 L613.9 304.5 L614.5 302.6 L615.1 300.6 L615.8 298.4 L616.4 296.1 L617 293.7 L617.6 291.3 L618.3 288.8 L618.9 286.5 L619.5 284.3 L620.1 282.2 L620.8 280.4 L621.4 278.7 L622.1 277.4 L622.9 276.4 L623.7 275.6 L624.4 274.8 L625.2 274.1 L626 273.5 L626.8 272.8 L627.5 272.1 L628.2 271.2 L628.9 270.2 L629.5 269.2 L630.2 268.2 L630.8 267.4 L631.4 266.8 L632 266.3 L632.7 266.1 L633.5 266 L634.4 266.1 L635.3 266.4 L636.2 266.7 L637.1 267 L638 267.3 L638.8 267.7 L639.6 267.9 L640.3 267.9 L641 267.9 L641.6 267.7 L642.4 267.3 L643.1 266.8 L644 266.1 L645 265.2 L646 264.4 L647.1 263.7 L648.2 263 L649.5 262.3 L650.8 261.7 L652 261 L653.3 260.2 L654.5 259.4 L655.7 258.7 L656.8 257.9 L657.8 257.1 L658.7 256.3 L659.7 255.6 L660.6 254.9 L661.6 254.2 L662.5 253.6 L663.4 253.1 L664.4 252.7 L665.3 252.4 L666.3 252.2 L667.2 251.9 L668.1 251.5 L669.1 250.8 L670 250 L671 249.4 L671.9 249 L672.8 248.8 L673.8 248.7 L674.7 248.8 L675.7 248.9 L676.6 249.2 L677.5 249.6 L678.5 249.9 L679.4 250.3 L680.4 250.6 L681.3 250.9 L682.2 251.3 L683.2 251.8 L684.1 252.3 L685.1 252.9 L686 253.6 L686.9 254.3 L687.9 255.1 L688.8 255.8 L689.7 256.6 L690.5 257.3 L691.2 258 L691.8 258.6 L692.4 259 L693 259.2 L693.7 259.2 L694.3 259 L695 258.6 L695.8 258 L696.6 257.3 L697.6 256.5 L698.5 255.5 L699.5 254.4 L700.4 253.3 L701.3 252 L702.3 250.7 L703.2 249.3 L704.2 247.8 L705.1 246.2 L706 244.5 L706.8 242.6 L707.5 240.6 L708.1 238.4 L708.7 236.1 L709.3 233.8 L710 231.3 L710.6 228.8 L711.2 226.6 L711.8 224.5 L712.5 222.7 L713.1 221.1 L713.8 219.4 L714.6 217.5 L715.4 215.5 L716.4 213.3 L717.3 211.4 L718.3 209.8 L719.2 208.4 L720.1 207.3 L721 206.1 L721.9 204.9 L722.7 203.5 L723.5 202.1 L724.3 200.6 L725 198.9 L725.8 197 L726.5 195 L727.3 193.5 L728.1 192.4 L729 191.8 L730 191.6 L730.8 191.6 L731.6 191.6 L732.3 191.6 L732.9 191.8 L733.6 191.7 L734.3 191.3 L735.1 190.6 L735.8 189.7 L736.6 188.8 L737.3 187.9 L738 187 L738.6 186.2 L739.2 185.5 L739.7 185.1 L740.2 184.9 L740.7 184.9 L741.2 185.2 L741.8 185.8 L742.3 186.6 L743 187.8 L743.6 188.9 L744.2 189.8 L744.8 190.7 L745.5 191.5 L746.1 192 L746.8 192.2 L747.6 192.1 L748.4 191.7 L749.1 191.4 L749.8 191.2 L750.5 191 L751.1 190.9 L751.8 191 L752.5 191.2 L753.2 191.5 L754 192 L754.8 192.4 L755.5 192.9 L756.1 193.4 L756.8 193.8 L757.4 194 L758.1 193.9 L758.9 193.6 L759.7 193 L760.4 192.2 L761.1 191.2 L761.8 190.2 L762.4 188.9 L763.1 187.8 L763.8 186.8 L764.5 185.9 L765.3 185.2 L766 184.7 L766.7 184.5 L767.4 184.5 L768 184.8 L768.7 185.1 L769.3 185.4 L769.9 185.8 L770.5 186.3 L771.2 186.7 L771.9 186.9 L772.7 187 L773.4 187 L774.2 187.2 L774.9 187.6 L775.6 188.2 L776.2 189 L776.8 190 L777.5 191.1 L778.3 192.5 L779.1 194.1 L779.9 195.6 L780.8 197 L781.7 198.3 L782.6 199.5 L783.5 200.8 L784.5 201.9 L785.4 203.1 L786.4 204.2 L787.3 205.1 L788.2 206 L789.2 206.8 L790.1 207.4 L791 207.9 L791.8 208.4 L792.5 208.8 L793.1 209.1 L793.8 209.3 L794.6 209.3 L795.4 209.2 L796.4 209 L797.2 208.9 L798 208.9 L798.7 209 L799.4 209.2 L800.1 209.6 L800.8 210.1 L801.7 210.7 L802.7 211.5 L803.6 212.2 L804.5 212.9 L805.5 213.4 L806.4 213.9 L807.3 214.4 L808.3 214.9 L809.2 215.5 L810.2 216.2 L811.1 216.8 L811.9 217.5 L812.8 218.2 L813.5 218.9 L814.3 219.5 L815.1 219.9 L815.8 220.3 L816.5 220.4 L817.3 220.7 L818.1 220.9 L819 221.2 L819.9 221.5 L820.9 221.9 L821.8 222.5 L822.8 223.2 L823.7 223.9 L824.6 224.7 L825.6 225.5 L826.5 226.3 L827.5 227.1 L828.4 227.8 L829.3 228.4 L830.3 229 L831.2 229.4 L832.2 229.7 L833.1 229.7 L834 229.4 L835 229 L835.9 228.4 L836.9 227.7 L837.8 226.8 L838.7 225.9 L839.6 225.1 L840.4 224.4 L841.1 223.9 L841.7 223.5 L842.3 223.4 L843 223.5 L843.6 223.8 L844.2 224.3 L844.9 224.9 L845.7 225.7 L846.6 226.5 L847.5 227.5 L848.5 228.6 L849.4 229.8 L850.3 231.2 L851.3 232.8 L852.2 234.3 L853.2 235.8 L854.1 237.3 L855 238.7 L856 240 L856.9 241.1 L857.9 242.2 L858.8 243.1 L859.7 243.8 L860.7 244.1 L861.6 244.1 L862.6 243.8 L863.5 243.4 L864.4 242.9 L865.4 242.3 L866.3 241.7 L867.2 241.2 L868 240.8 L868.7 240.5 L869.3 240.4 L869.9 240 L870.5 239.5 L871.2 238.7 L871.8 237.8 L872.5 236.8 L873.3 235.7 L874.1 234.5 L875.1 233.3 L876 232.1 L877 231 L877.9 230 L878.8 229 L879.8 228 L880.7 227 L881.7 226 L882.6 224.9 L883.5 223.8 L884.5 222.7 L885.4 221.6 L886.4 220.5 L887.2 219.6 L888 218.9 L888.7 218.4 L889.3 218.1 L890 217.9 L890.6 217.8 L891.2 217.8 L891.8 218 L892.5 217.9 L893.1 217.6 L893.7 217 L894.3 216.3 L895 215.3 L895.6 214.2 L896.2 213 L896.9 211.6 L897.5 210.1 L898.1 208.5 L898.7 206.9 L899.4 205.1 L900 203.3 L900.6 201.3 L901.2 199.3 L901.9 197.1 L902.5 194.9 L903.1 192.7 L903.7 190.5 L904.4 188.3 L904.9 186.3 L905.4 184.6 L905.8 183.1 L906.1 181.9 L906.5 179.7 L907 176.6 L907.6 172.6 L908.4 167.6 L909.1 163.3 L909.7 159.6 L910.4 156.4 L911 153.9 L911.6 151.4 L912.3 148.9 L912.9 146.4 L913.5 143.9 L914.1 141.6 L914.8 139.6 L915.4 137.8 L916 136.2 L916.7 135 L917.3 134 L917.9 133.3 L918.5 132.9 L919.2 132.7 L919.8 132.6 L920.4 132.7 L921 132.9 L921.7 133.4 L922.3 134.1 L922.9 135.1 L923.5 136.4 L924.2 137.6 L924.9 138.8 L925.7 139.9 L926.4 141 L927.2 142.1 L927.9 143.1 L928.6 144.1 L929.2 145 L929.8 145.9 L930.4 146.9 L931.1 147.8 L931.7 148.8 L932.4 149.5 L933.2 150 L934 150.3 L935 150.3 L935.8 150.2 L936.6 150 L937.3 149.6 L938 149.1 L938.6 148.5 L939.2 148 L939.8 147.4 L940.5 146.7 L941.1 146.2 L941.7 145.8 L942.3 145.5 L943 145.2 L943.6 145.2 L944.2 145.4 L944.8 145.7 L945.5 146.2 L946.2 146.7 L947 147 L947.8 147.3 L948.8 147.4 L949.7 147.6 L950.6 147.7 L951.6 147.9 L952.5 148.1 L953.5 148.2 L954.4 148.4 L955.3 148.5 L956.3 148.7 L957.2 148.8 L958.2 148.8 L959.1 148.8 L960 148.8 L961 148.6 L961.9 148.5 L962.9 148.2 L963.8 147.9 L964.7 147.7 L965.7 147.5 L966.6 147.5 L967.6 147.6 L968.5 147.6 L969.4 147.6 L970.4 147.6 L971.3 147.5 L972.3 147.5 L973.2 147.6 L974.1 147.7 L975.1 148 L976 148.2 L977 148.4 L977.9 148.5 L978.8 148.7 L979.8 148.7 L980.7 148.6 L981.7 148.5 L982.6 148.1 L983.5 147.7 L984.2 147 L984.9 146.3 L985.6 145.3 L986.2 144.2 L986.8 143 L987.5 141.6 L988.1 140 L988.7 138.4 L989.3 136.9 L990 135.3 L990.6 133.7 L991.2 132.2 L991.8 130.6 L992.5 129 L993.1 127.5 L993.8 125.9 L994.6 124.2 L995.4 122.5 L996.4 120.8 L997.3 119.2 L998.3 117.6 L999.2 116.1 L1000.1 114.7 L1001.1 113.4 L1002 112.3 L1003 111.4 L1003.9 110.6 L1004.8 109.8 L1005.8 109.1 L1006.7 108.3 L1007.7 107.5 L1008.6 106.7 L1009.5 105.9 L1010.5 105.1 L1011.4 104.4 L1012.4 103.7 L1013.3 103.1 L1014.2 102.7 L1015.2 102.4 L1016.1 102 L1017.1 101.4 L1018 100.8 L1018.9 100 L1019.9 99.2 L1020.8 98.4 L1021.8 97.6 L1022.7 96.8 L1023.6 96 L1024.6 95.2 L1025.5 94.3 L1026.5 93.3 L1027.4 92.4 L1028.3 91.4 L1029.3 90.5 L1030.2 89.6 L1031.2 88.6 L1032.1 87.7 L1033 86.7 L1034 85.8 L1034.9 85 L1035.9 84.2 L1036.8 83.6 L1037.7 83.1 L1038.7 82.6 L1039.6 82.3 L1040.6 82.1 L1041.5 82 L1042.4 82 L1043.4 82.1 L1044.3 82.3 L1045.3 82.7 L1046.2 83 L1047.1 83.4 L1048.1 83.8 L1049 84.3 L1050 84.7 L1050.9 84.9 L1051.8 85 L1052.8 85 L1053.7 85 L1054.7 85 L1055.6 85 L1056.5 85 L1057.5 84.9 L1058.4 84.7 L1059.4 84.4 L1060.3 84.1 L1061.2 83.7 L1062.2 83.5 L1063.1 83.2 L1064.1 83 L1065 83 L1065.9 83 L1066.9 83.1 L1067.8 83.4 L1068.8 83.8 L1069.7 84.4 L1070.6 85.2 L1071.6 86.1 L1072.4 87.1 L1073.2 88.2 L1073.9 89.4 L1074.5 90.7 L1075.2 92.1 L1075.8 93.6 L1076.4 95.4 L1077.1 97.2 L1077.6 99.1 L1078 101 L1078.3 102.9 L1078.6 104.7 L1078.8 106.8 L1079.2 109.2 L1079.6 111.7 L1080.1 114.6 L1080.5 117.4 L1081 120.2 L1081.5 123 L1082 125.8 L1082.5 128.7 L1083 131.7 L1083.6 134.8 L1084.2 137.9 L1084.9 141 L1085.6 144.2 L1086.3 147.3 L1087.1 150.4 L1087.9 153.7 L1088.7 157.2 L1089.5 160.8 L1090.3 164.5 L1091 168.1 L1091.7 171.4 L1092.4 174.4 L1093 177.2 L1093.6 180 L1094.2 182.8 L1094.9 185.6 L1095.5 188.4 L1096.2 190.5 L1096.9 192 L1097.8 192.9 L1098.7 193.2 L1099.6 193.4 L1100.4 193.6 L1101.1 193.9 L1101.7 194.1 L1102.3 194.4 L1103 194.9 L1103.6 195.6 L1104.2 196.4 L1104.9 197.1 L1105.6 197.8 L1106.3 198.5 L1107.1 199.1 L1107.9 199.5 L1108.7 199.8 L1109.5 199.8 L1110.3 199.7 L1111 199.6 L1111.7 199.6 L1112.4 199.7 L1113 199.8 L1113.6 200.2 L1114.2 200.7 L1114.9 201.5 L1115.5 202.4 L1116.2 203.3 L1117 204.3 L1117.9 205.2 L1118.8 206.2 L1119.7 207 L1120.7 207.8 L1121.6 208.5 L1122.6 209.1 L1123.4 209.8 L1124.2 210.4 L1124.9 211 L1125.5 211.6 L1126.2 212.5 L1126.8 213.6 L1127.4 214.9 L1128 216.5 L1128.7 218 L1129.4 219.4 L1130.1 220.7 L1130.9 222 L1131.7 223.2 L1132.4 224.5 L1133 225.7 L1133.7 227 L1134.3 228.4 L1134.8 230 L1135.3 231.7 L1135.8 233.6 L1136.3 235.6 L1136.7 237.8 L1137.2 240.2 L1137.7 242.7 L1138.1 245.2 L1138.6 247.7 L1139.1 250.2 L1139.5 252.7 L1140 255.1 L1140.5 257.5 L1141 259.7 L1141.4 261.9 L1141.9 264.3 L1142.3 266.8 L1142.8 269.5 L1143.2 272.4 L1143.5 274.5 L1143.7 276 L1143.8 276.7" stroke="#6a1fb5" stroke-width="1.75" fill="none" stroke-linejoin="round" stroke-linecap="round" />
<path d="M3 189.6 L3 189.5 L3.1 189.4 L3.3 189.2 L3.4 189 L4 188.1 L4.8 186.5 L6.1 184.2 L7.6 181.3 L9.2 178.6 L10.9 176.1 L12.5 173.8 L14.2 171.6 L15.9 169.4 L17.5 167 L19.2 164.4 L20.9 161.7 L22.6 159.1 L24.2 156.7 L25.9 154.5 L27.5 152.4 L29.2 150.4 L30.9 148.4 L32.5 146.5 L34.2 144.6 L36 142.7 L37.9 140.7 L39.9 138.7 L42 136.6 L44 134.5 L45.8 132.5 L47.6 130.6 L49.3 128.7 L51.1 126.8 L53 125 L55 123.1 L57 121.2 L59.2 119.3 L61.5 117.3 L63.9 115.2 L66.4 113.1 L68.8 111.1 L71 109.1 L73 107.2 L74.9 105.4 L76.9 103.4 L79.1 101.3 L81.5 98.9 L84 96.4 L86.5 93.9 L89 91.4 L91.5 88.9 L94 86.4 L96.5 84 L99 81.6 L101.5 79.4 L104 77.2 L106.5 75.2 L109 73.4 L111.5 71.8 L114 70.4 L116.5 69 L119 67.8 L121.6 66.6 L124.1 65.5 L126.6 64.4 L129.1 63.3 L131.6 62.2 L134.1 61.1 L136.7 60.2 L139.6 59.5 L142.5 59 L145.7 58.7 L148.8 58.4 L151.9 58.1 L155.1 57.9 L158.2 57.7 L161.3 57.4 L164.5 57.2 L167.6 57 L170.7 56.7 L173.9 56.5 L177 56.3 L180.1 56.1 L183.3 55.9 L186.4 55.8 L189.4 55.5 L192.5 55.2 L195.5 54.9 L198.2 54.6 L200.7 54.4 L202.8 54.1 L204.7 53.9 L206.7 53.7 L208.9 53.6 L211.3 53.5 L213.8 53.4 L216.4 53.4 L219.3 53.3 L222.2 53.4 L225.4 53.4 L228.2 53.6 L230.7 53.9 L232.9 54.4 L234.8 55.1 L236.8 55.8 L239 56.7 L241.4 57.6 L243.9 58.6 L246.4 59.6 L248.9 60.7 L251.4 61.9 L253.9 63.1 L256.4 64.1 L258.9 65.1 L261.4 65.9 L263.9 66.6 L266.4 67.3 L268.9 68.1 L271.4 69 L273.9 69.9 L276.4 71 L278.9 72.1 L281.5 73.2 L284 74.5 L286.5 75.7 L289 76.9 L291.5 78 L294 79.1 L296.5 80.2 L299 81.3 L301.5 82.4 L304 83.5 L306.2 84.5 L308.1 85.3 L309.6 86 L310.9 86.5 L312.3 87 L313.9 87.5 L315.6 87.9 L317.5 88.2 L319.5 88.5 L321.7 88.9 L324.1 89.2 L326.6 89.6 L329.1 90 L331.6 90.4 L334.1 90.9 L336.6 91.3 L339.1 91.8 L341.6 92.3 L344.1 92.8 L346.6 93.4 L349 93.9 L351.2 94.5 L353.2 95 L355.1 95.6 L357 96.2 L358.8 97 L360.7 97.8 L362.6 98.8 L364.6 99.8 L366.8 101 L369.2 102.3 L371.7 103.7 L374.2 105.1 L376.7 106.5 L379.2 107.9 L381.7 109.3 L384.2 110.8 L386.7 112.3 L389.2 113.8 L391.7 115.4 L393.9 116.8 L395.7 118.2 L397.2 119.5 L398.3 120.7 L399.8 122 L401.6 123.3 L403.8 124.7 L406.2 126.2 L408.8 127.7 L411.2 129.3 L413.8 131 L416.2 132.7 L418.8 134.4 L421.2 136.1 L423.8 137.7 L426.2 139.2 L428.8 140.8 L431.2 142.4 L433.8 144 L436.2 145.5 L438.8 147.1 L441.2 148.6 L443.8 150 L446.2 151.4 L448.8 152.8 L451.2 154.2 L453.8 155.6 L456.2 157 L458.8 158.4 L461.2 159.7 L463.8 161 L466.2 162.2 L468.9 163.6 L471.8 165 L474.8 166.5 L477.9 168 L480.8 169.5 L483.3 170.8 L485.4 171.9 L487.3 173 L489.1 174.1 L491 175.3 L493 176.6 L494.9 177.9 L496.9 179.2 L498.8 180.5 L500.7 181.6 L502.6 182.7 L504.6 183.9 L506.8 185.2 L509.2 186.5 L511.7 187.9 L514.2 189.2 L516.7 190.4 L519.2 191.4 L521.7 192.4 L524.2 193.2 L526.7 193.9 L529.2 194.5 L531.7 195 L534.2 195.4 L536.7 195.8 L539.1 196.2 L541.5 196.5 L543.8 196.9 L545.9 197.3 L547.9 197.7 L549.8 198.2 L551.7 198.8 L553.6 199.5 L555.5 200.3 L557.3 201.3 L559.2 202.2 L561.1 203.2 L563 204.1 L564.8 205 L566.7 205.9 L568.6 206.8 L570.5 207.6 L572.4 208.4 L574.4 209.3 L576.6 210.2 L578.9 211.2 L581.5 212.3 L583.8 213.4 L586 214.5 L588 215.6 L589.9 216.7 L591.8 217.8 L593.6 219 L595.5 220.2 L597.3 221.4 L599.1 222.6 L601 223.7 L602.8 224.8 L604.7 225.9 L606.6 227.1 L608.5 228.2 L610.3 229.4 L612.2 230.7 L614.3 232 L616.4 233.4 L618.8 234.9 L621.3 236.5 L623.8 238 L626.3 239.4 L628.8 240.7 L631.3 242 L633.7 243.1 L635.9 244.2 L637.9 245.2 L639.8 246.1 L641.7 246.8 L643.5 247.4 L645.4 247.8 L647.3 248.2 L649.2 248.4 L651.1 248.7 L652.9 248.9 L654.8 249 L656.7 249.2 L658.6 249.5 L660.5 249.8 L662.3 250.2 L664.2 250.5 L666.1 250.9 L668 251.2 L669.9 251.5 L671.7 251.8 L673.6 252.2 L675.5 252.5 L677.4 252.8 L679.3 253.1 L681.1 253.3 L683 253.6 L684.9 253.8 L686.8 254 L688.7 254.2 L690.5 254.3 L692.4 254.4 L694.3 254.4 L696.2 254.5 L698.1 254.5 L699.9 254.5 L701.8 254.5 L703.7 254.4 L705.6 254.3 L707.5 254.1 L709.5 253.9 L711.7 253.6 L714 253.2 L716.5 252.7 L719 252.3 L721.6 251.9 L724.1 251.5 L726.6 251.2 L729.1 250.9 L731.6 250.5 L734.1 250.2 L736.6 249.8 L739.1 249.5 L741.6 249.2 L744.1 248.9 L746.6 248.6 L749.1 248.3 L751.6 248 L754.1 247.5 L756.6 247.1 L759.1 246.6 L761.7 246.1 L764.2 245.7 L766.7 245.2 L769.2 244.7 L771.7 244.3 L774.2 243.8 L776.7 243.3 L779.2 242.8 L781.7 242.4 L784.2 241.9 L786.7 241.4 L789.2 241 L791.6 240.6 L794.1 240.3 L796.5 240 L798.9 239.7 L801.3 239.6 L803.8 239.5 L806.3 239.5 L808.8 239.6 L811.3 239.8 L813.8 240 L816.3 240.3 L818.8 240.6 L821.4 240.9 L823.9 241.2 L826.4 241.6 L828.7 241.8 L830.9 241.8 L832.9 241.8 L834.8 241.6 L836.7 241.4 L838.6 241.1 L840.5 240.7 L842.3 240.2 L844.2 239.8 L846.1 239.4 L848 239.1 L849.9 238.7 L851.7 238.4 L853.6 238.1 L855.5 237.8 L857.4 237.5 L859.3 237.2 L861.1 236.9 L863 236.5 L864.9 236.2 L866.8 235.8 L868.7 235.4 L870.5 234.8 L872.4 234.2 L874.3 233.5 L876.2 232.8 L878.1 232.1 L879.9 231.3 L881.8 230.6 L883.7 230 L885.6 229.4 L887.5 229 L889.3 228.5 L891.2 228.1 L893.1 227.8 L895 227.5 L896.9 227 L898.7 226.4 L900.6 225.6 L902.5 224.6 L904.4 223.7 L906.3 222.8 L908.1 221.8 L910 220.9 L911.9 219.9 L913.8 219 L915.7 218.1 L917.5 217.1 L919.4 216.2 L921.3 215.3 L923.2 214.4 L925.1 213.6 L926.9 212.8 L928.8 212 L930.7 211.2 L932.6 210.5 L934.4 209.8 L936.3 209 L938.2 208.3 L940.1 207.5 L942 206.7 L943.8 206 L945.7 205.4 L947.6 204.7 L949.5 204.1 L951.4 203.5 L953.2 202.9 L955.1 202.2 L957 201.6 L958.9 201 L960.8 200.4 L962.6 199.7 L964.5 199.1 L966.4 198.4 L968.3 197.6 L970.2 196.8 L972 196.1 L973.8 195.3 L975.6 194.5 L977.4 193.7 L979.3 192.9 L981.4 192.1 L983.8 191.3 L986.2 190.5 L988.8 189.7 L991.2 188.9 L993.8 188.1 L996.2 187.2 L998.8 186.4 L1001.2 185.6 L1003.8 184.8 L1006.2 184 L1008.7 183.2 L1011.1 182.5 L1013.4 181.7 L1015.6 181 L1017.8 180.2 L1020 179.4 L1022.2 178.6 L1024.3 177.7 L1026.4 176.9 L1028.4 176.1 L1030.3 175.3 L1032.2 174.5 L1034.3 173.7 L1036.4 172.8 L1038.8 171.9 L1041.3 171 L1043.8 170 L1046.3 169.1 L1048.8 168.1 L1051.3 167.2 L1053.8 166.3 L1056.3 165.3 L1058.8 164.4 L1061.4 163.4 L1063.7 162.6 L1065.9 161.8 L1067.9 161.1 L1069.8 160.5 L1071.7 159.9 L1073.6 159.4 L1075.5 158.9 L1077.3 158.5 L1079.4 158.1 L1081.6 157.8 L1083.9 157.4 L1086.4 157.1 L1088.9 156.8 L1091.4 156.6 L1093.9 156.5 L1096.4 156.3 L1098.9 156.2 L1101.5 156 L1104 155.8 L1106.5 155.5 L1109 155.3 L1111.5 155.1 L1114 154.9 L1116.5 154.8 L1119 154.7 L1121.5 154.7 L1124 154.6 L1126.5 154.6 L1128.9 154.7 L1131.1 154.8 L1133.1 154.9 L1135 155.1 L1136.7 155.4 L1138.4 155.7 L1139.9 156.1 L1141.3 156.6 L1142.4 157 L1143.1 157.3 L1143.4 157.4" stroke="#f0650e" stroke-width="1.75" fill="none" stroke-linejoin="round" stroke-linecap="round" />
<path d="M3 206.4 L4 206 L5.9 205.3 L8.8 204.1 L12.6 202.6 L15.9 201.1 L18.7 199.7 L20.9 198.4 L22.6 197.1 L24.2 195.8 L25.6 194.4 L27 193 L28.2 191.6 L29.8 189.9 L31.7 188 L33.9 186 L36.4 183.6 L38.9 181.3 L41.4 178.9 L43.9 176.4 L46.4 173.9 L48.5 171.7 L50.4 169.6 L52 167.7 L53.2 166 L54.9 163.9 L57 161.4 L59.5 158.5 L62.4 155.1 L65.1 152 L67.6 149.2 L70 146.7 L72 144.3 L74.1 142 L76.2 139.6 L78.3 137.2 L80.4 134.7 L82.6 132.2 L84.9 129.8 L87.3 127.5 L89.8 125.2 L92.3 122.8 L94.8 120.4 L97.3 118 L99.8 115.5 L101.9 113.5 L103.5 112 L104.7 111.1 L105.4 110.6 L106.5 109.9 L108 109 L109.8 107.7 L112 106.2 L114.3 104.6 L116.6 102.9 L119 101.1 L121.6 99.3 L124.1 97.4 L126.6 95.5 L129.1 93.6 L131.6 91.7 L134.1 89.9 L136.6 88 L139.1 86.1 L141.6 84.2 L144.1 82.4 L146.6 80.6 L149.1 78.8 L151.6 77.1 L154.1 75.5 L156.6 74.1 L159.1 72.9 L161.7 71.8 L164.2 70.7 L166.7 69.7 L169.2 68.7 L171.7 67.8 L174 66.8 L176.2 65.9 L178.3 65 L180.1 64 L181.9 63.2 L183.4 62.4 L184.8 61.7 L186.1 61 L187.3 60.6 L188.6 60.3 L189.8 60.1 L191.1 60.1 L192.5 60.1 L194 60.2 L195.6 60.3 L197.4 60.5 L199.3 60.6 L201.4 60.6 L203.8 60.5 L206.3 60.3 L208.9 60.1 L211.7 60 L214.7 59.7 L217.9 59.5 L221 59.4 L224.1 59.3 L227.3 59.3 L230.4 59.4 L233.4 59.6 L236.2 59.8 L238.8 60 L241.4 60.3 L243.9 60.6 L246.4 61 L248.9 61.4 L251.4 61.9 L253.9 62.3 L256.4 62.7 L258.9 63 L261.4 63.2 L263.9 63.5 L266.4 63.9 L268.9 64.4 L271.4 64.9 L273.9 65.5 L276.4 66.3 L278.9 67.1 L281.5 68.1 L283.6 69 L285.5 69.8 L287.1 70.6 L288.3 71.4 L289.9 72.2 L291.8 73 L294 73.8 L296.5 74.6 L299 75.3 L301.5 76.1 L304 76.9 L306.5 77.7 L309 78.4 L311.5 78.9 L314 79.3 L316.5 79.7 L319 80 L321.6 80.2 L324.1 80.5 L326.6 80.8 L329.1 81 L331.6 81.3 L334.1 81.7 L336.6 82.1 L338.8 82.5 L340.7 82.9 L342.2 83.3 L343.5 83.8 L345.1 84.4 L346.9 85.1 L349.1 85.9 L351.6 86.9 L354.1 87.9 L356.6 89.1 L359.1 90.4 L361.7 91.8 L364.2 93.1 L366.7 94.4 L369.2 95.6 L371.7 96.7 L374.2 97.7 L376.7 98.8 L379.2 99.8 L381.7 100.9 L384.2 101.9 L386.7 103 L389.2 104.2 L391.7 105.3 L393.9 106.4 L395.7 107.2 L397.2 108 L398.3 108.6 L399.8 109.4 L401.6 110.3 L403.8 111.4 L406.2 112.7 L408.8 113.9 L411.2 115.3 L413.8 116.7 L416.2 118.1 L418.8 119.6 L421.2 121.2 L423.8 122.8 L426.2 124.5 L428.8 126.2 L431.2 127.9 L433.8 129.7 L436.2 131.4 L438.8 133.1 L441.2 134.6 L443.8 136 L446.2 137.3 L448.8 138.5 L451.2 139.8 L453.8 141 L456.2 142.3 L458.8 143.5 L461.2 144.6 L463.8 145.8 L466.2 146.9 L468.9 148 L471.8 149.3 L474.8 150.6 L477.9 152 L480.8 153.3 L483.3 154.6 L485.4 155.8 L487.3 156.9 L489.3 158 L491.4 159.2 L493.8 160.5 L496.2 161.8 L498.5 163 L500.5 164.2 L502.3 165.2 L503.9 166.2 L505.5 167.2 L507 168.3 L508.6 169.5 L510.2 170.7 L511.8 171.9 L513.5 173 L515.4 174 L517.2 175 L519.1 175.9 L521 176.7 L522.9 177.5 L524.7 178.3 L526.6 179 L528.5 179.7 L530.4 180.2 L532.3 180.7 L534.1 181.2 L535.8 181.7 L537.4 182.3 L539 182.9 L540.6 183.5 L542.1 184 L543.7 184.4 L545.3 184.7 L546.8 185.1 L548.2 185.5 L549.5 186.1 L550.8 186.7 L552 187.3 L553.3 188 L554.5 188.6 L555.8 189.2 L557 189.9 L558.3 190.7 L559.5 191.6 L560.8 192.5 L562 193.4 L563.3 194.4 L564.5 195.3 L565.8 196.3 L567.2 197.2 L568.8 198.3 L570.5 199.3 L572.4 200.4 L574.4 201.5 L576.6 202.6 L578.9 203.7 L581.5 204.8 L583.8 205.8 L586 206.8 L588 207.6 L589.9 208.4 L591.8 209.3 L593.6 210.3 L595.5 211.4 L597.3 212.6 L599.1 213.7 L601 214.6 L602.8 215.4 L604.7 216 L606.6 216.6 L608.5 217.2 L610.3 217.9 L612.2 218.5 L614.3 219.1 L616.4 219.8 L618.8 220.5 L621.3 221.2 L623.8 221.9 L626.3 222.6 L628.8 223.3 L631.3 224 L633.8 224.8 L636.3 225.7 L638.8 226.7 L641.4 227.8 L643.9 228.9 L646.4 229.9 L648.9 230.9 L651.4 231.8 L653.9 232.8 L656.4 233.8 L658.9 234.9 L661.4 235.9 L663.9 237 L666.4 238.1 L668.9 239.2 L671.4 240.3 L673.9 241.4 L676.4 242.4 L678.9 243.4 L681.5 244.3 L683.8 245.2 L686 246 L688 246.7 L689.9 247.3 L691.6 247.8 L693.2 248.3 L694.6 248.6 L695.9 248.8 L697.3 249 L698.8 249.1 L700.6 249.3 L702.4 249.4 L704.5 249.4 L706.7 249.4 L709 249.4 L711.5 249.3 L714 249.3 L716.5 249.1 L719 249 L721.6 248.9 L724.1 248.7 L726.6 248.4 L729.1 248.2 L731.6 247.8 L734.1 247.5 L736.6 247.2 L739.1 246.9 L741.6 246.6 L744.1 246.3 L746.6 246 L749.1 245.6 L751.6 245.3 L754.1 245 L756.6 244.7 L759.1 244.4 L761.7 244.1 L764.2 243.8 L766.7 243.6 L769.2 243.4 L771.7 243.2 L774.2 243.1 L776.7 243 L779.2 242.8 L781.7 242.7 L784 242.6 L786.2 242.5 L788.1 242.4 L789.9 242.2 L792 242.1 L794.4 241.9 L797.2 241.7 L800.4 241.5 L803.5 241.3 L806.6 241.1 L809.8 241 L812.9 240.9 L816 240.8 L819.2 240.6 L822.3 240.3 L825.4 240 L828.4 239.7 L831.2 239.3 L833.9 238.9 L836.4 238.5 L838.9 238.2 L841.4 238 L843.9 237.9 L846.4 237.9 L848.9 237.9 L851.4 238 L853.9 238 L856.4 238.1 L858.8 238.3 L861 238.5 L863 238.7 L864.9 239.1 L866.8 239.3 L868.7 239.6 L870.5 239.8 L872.4 239.9 L874.2 240.1 L875.9 240.3 L877.6 240.6 L879.2 240.9 L880.8 241.1 L882.5 241.1 L884.3 240.9 L886.2 240.6 L888.1 240.2 L890 239.8 L891.8 239.2 L893.7 238.6 L895.6 237.9 L897.5 237.2 L899.4 236.5 L901.2 235.7 L903.1 234.9 L905 234.1 L906.9 233.3 L908.8 232.6 L910.6 231.7 L912.5 230.9 L914.4 230 L916.3 229 L918.2 228.1 L920 227.1 L921.9 226.2 L923.8 225.3 L925.7 224.3 L927.6 223.4 L929.4 222.4 L931.3 221.5 L933.2 220.5 L935.1 219.5 L937 218.5 L938.8 217.4 L940.7 216.4 L942.6 215.5 L944.5 214.8 L946.4 214.1 L948.2 213.5 L950.1 212.8 L952 212 L953.9 211.2 L955.8 210.5 L957.6 209.8 L959.5 209.1 L961.4 208.5 L963.3 207.9 L965.2 207.3 L967 206.6 L968.9 206 L970.8 205.4 L972.8 204.7 L974.8 204 L976.9 203.3 L979.1 202.5 L981.4 201.6 L983.8 200.6 L986.2 199.5 L988.8 198.4 L991.2 197.2 L993.8 196.1 L996.2 195 L998.8 193.9 L1001.2 192.7 L1003.8 191.6 L1006.2 190.4 L1008.7 189.3 L1011.1 188.2 L1013.4 187.2 L1015.6 186.1 L1017.8 185.1 L1020 184 L1022.2 183 L1024.3 181.9 L1026.4 180.8 L1028.4 179.9 L1030.3 179 L1032.2 178.2 L1034.3 177.4 L1036.4 176.6 L1038.8 175.7 L1041.3 174.7 L1043.8 173.8 L1046.3 172.8 L1048.8 171.9 L1051.3 171 L1053.8 170.1 L1056.3 169.2 L1058.8 168.4 L1061.4 167.6 L1063.7 166.9 L1065.9 166.3 L1067.9 165.7 L1069.8 165.2 L1071.7 164.8 L1073.6 164.5 L1075.5 164.2 L1077.3 164 L1079.4 163.8 L1081.6 163.7 L1083.9 163.7 L1086.4 163.7 L1088.9 163.7 L1091.4 163.8 L1093.9 164 L1096.4 164.2 L1098.9 164.4 L1101.5 164.5 L1104 164.5 L1106.5 164.5 L1109 164.5 L1111.5 164.5 L1114 164.5 L1116.5 164.5 L1118.8 164.6 L1121 164.6 L1123.1 164.7 L1124.9 164.8 L1126.8 164.9 L1128.7 165.2 L1130.6 165.5 L1132.5 165.9 L1134.4 166.2 L1136.3 166.6 L1138.3 167 L1140.4 167.4 L1141.9 167.7 L1142.9 167.9 L1143.4 168" stroke="#d50f1c" stroke-width="1.75" fill="none" stroke-linejoin="round" stroke-linecap="round" />
<text x="727.8" y="154.5" font-size="17.3" fill="#1fae6d" font-weight="normal" text-anchor="start" >a</text>
<text x="814.9" y="320.2" font-size="17.3" fill="#1fae6d" font-weight="normal" text-anchor="start" >b</text>
<text x="1025.3" y="49.1" font-size="17.3" fill="#1fae6d" font-weight="normal" text-anchor="start" >c</text>
<text x="1029.4" y="54.1" font-size="7.4" fill="#e9263c" font-weight="normal" text-anchor="start" textLength="4.7" lengthAdjust="spacingAndGlyphs" >V</text>
<text x="903.8" y="92.6" font-size="7.4" fill="#e9263c" font-weight="normal" text-anchor="start" textLength="7.5" lengthAdjust="spacingAndGlyphs" >III</text>
<text x="871.8" y="196.4" font-size="7.4" fill="#e9263c" font-weight="normal" text-anchor="start" >I</text>
<text x="927.9" y="184.1" font-size="7.4" fill="#e9263c" font-weight="normal" text-anchor="start" textLength="6.9" lengthAdjust="spacingAndGlyphs" >IV</text>
<text x="894.2" y="240.1" font-size="7.4" fill="#e9263c" font-weight="normal" text-anchor="start" textLength="3.8" lengthAdjust="spacingAndGlyphs" >II</text>
<ellipse cx="337.2" cy="101.8" rx="23" ry="17.2" fill="#fae150" fill-opacity="0.35" stroke="#e0523f" stroke-opacity="0.85" stroke-width="1"/>
<path d="M624 194.6L1122 11.2" stroke="#111" stroke-width="1.7" stroke-linecap="round"/>
<path d="M599 351.6L1097.5 168" stroke="#111" stroke-width="1.7" stroke-linecap="round"/>
<path d="M2 311.4H1548" stroke="#737b80" stroke-width="1"/>
<path d="M7 352.3H1493.5" stroke="#8a9197" stroke-width="1.15" stroke-dasharray="7 7.25"/>
<rect x="1066.3" y="210.4" width="500" height="24.8" fill="#eef0f4" fill-opacity="0.55" stroke="#0bb06b" stroke-width="2.5"/>
<path d="M1079.5 224.1L1493.5 224.5" stroke="url(#gB)" stroke-width="1.5" stroke-dasharray="9 5.1"/>
<rect x="563.5" y="338.3" width="1000" height="27.6" fill="#eef0f4" fill-opacity="0.55" stroke="#1d70bd" stroke-width="2.5"/>
<rect x="2" y="458.4" width="1539.5" height="27.2" fill="#eef0f4" fill-opacity="0.55"/>
<path d="M2 458.4H1541.5M2 485.6H1541.5" stroke="#e2202c" stroke-width="2.2"/>
<path d="M2 471.3H1493.5" stroke="#8aa3c8" stroke-width="1"/>
<path d="M1161.8 10V534" stroke="#4a4a4a" stroke-width="1.25" stroke-dasharray="3.1 5.8"/>
<rect x="1541.8" y="0" width="58.5" height="718" fill="#fff"/>
<g stroke="#f2f4f6" stroke-width="1">
<path d="M1541.5 40.6H1547"/>
<path d="M1541.5 72.4H1547"/>
<path d="M1541.5 104.1H1547"/>
<path d="M1541.5 135.8H1547"/>
<path d="M1541.5 167.5H1547"/>
<path d="M1541.5 199.2H1547"/>
<path d="M1541.5 231H1547"/>
<path d="M1541.5 262.7H1547"/>
<path d="M1541.5 294.4H1547"/>
<path d="M1541.5 326.1H1547"/>
<path d="M1541.5 357.8H1547"/>
<path d="M1541.5 389.6H1547"/>
<path d="M1541.5 421.3H1547"/>
<path d="M1541.5 453H1547"/>
<path d="M1541.5 484.7H1547"/>
<path d="M1541.5 516.4H1547"/>
<path d="M1541.5 580H1547"/>
<path d="M1541.5 610.6H1547"/>
<path d="M1541.5 641.3H1547"/>
<path d="M1541.5 672.5H1547"/>
</g>
<path d="M2 702.7H1547" stroke="#e6e9ec" stroke-width="1"/>
<text x="1549" y="43.7" font-size="11.3" fill="#3a3a3a" font-weight="normal" text-anchor="start" textLength="47.6" lengthAdjust="spacingAndGlyphs" >25061.65</text>
<text x="1549" y="75.5" font-size="11.3" fill="#3a3a3a" font-weight="normal" text-anchor="start" textLength="47.6" lengthAdjust="spacingAndGlyphs" >24982.24</text>
<text x="1549" y="107.3" font-size="11.3" fill="#3a3a3a" font-weight="normal" text-anchor="start" textLength="47.6" lengthAdjust="spacingAndGlyphs" >24902.82</text>
<text x="1549" y="139.1" font-size="11.3" fill="#3a3a3a" font-weight="normal" text-anchor="start" textLength="47.6" lengthAdjust="spacingAndGlyphs" >24823.41</text>
<text x="1549" y="170.9" font-size="11.3" fill="#3a3a3a" font-weight="normal" text-anchor="start" textLength="47.6" lengthAdjust="spacingAndGlyphs" >24744.00</text>
<text x="1549" y="202.7" font-size="11.3" fill="#3a3a3a" font-weight="normal" text-anchor="start" textLength="47.6" lengthAdjust="spacingAndGlyphs" >24664.59</text>
<text x="1549" y="234.5" font-size="11.3" fill="#3a3a3a" font-weight="normal" text-anchor="start" textLength="47.6" lengthAdjust="spacingAndGlyphs" >24585.18</text>
<text x="1549" y="266.3" font-size="11.3" fill="#3a3a3a" font-weight="normal" text-anchor="start" textLength="47.6" lengthAdjust="spacingAndGlyphs" >24505.77</text>
<text x="1549" y="298.1" font-size="11.3" fill="#3a3a3a" font-weight="normal" text-anchor="start" textLength="47.6" lengthAdjust="spacingAndGlyphs" >24426.36</text>
<text x="1549" y="329.9" font-size="11.3" fill="#3a3a3a" font-weight="normal" text-anchor="start" textLength="47.6" lengthAdjust="spacingAndGlyphs" >24346.94</text>
<text x="1549" y="361.7" font-size="11.3" fill="#3a3a3a" font-weight="normal" text-anchor="start" textLength="47.6" lengthAdjust="spacingAndGlyphs" >24267.53</text>
<text x="1549" y="393.5" font-size="11.3" fill="#3a3a3a" font-weight="normal" text-anchor="start" textLength="47.6" lengthAdjust="spacingAndGlyphs" >24188.12</text>
<text x="1549" y="425.3" font-size="11.3" fill="#3a3a3a" font-weight="normal" text-anchor="start" textLength="47.6" lengthAdjust="spacingAndGlyphs" >24108.71</text>
<text x="1549" y="457.1" font-size="11.3" fill="#3a3a3a" font-weight="normal" text-anchor="start" textLength="47.6" lengthAdjust="spacingAndGlyphs" >24029.30</text>
<text x="1549" y="488.9" font-size="11.3" fill="#3a3a3a" font-weight="normal" text-anchor="start" textLength="47.6" lengthAdjust="spacingAndGlyphs" >23949.89</text>
<text x="1549" y="520.7" font-size="11.3" fill="#3a3a3a" font-weight="normal" text-anchor="start" textLength="47.6" lengthAdjust="spacingAndGlyphs" >23870.47</text>
<text x="1549" y="547.6" font-size="11.3" fill="#3a3a3a" font-weight="normal" text-anchor="start" textLength="47.6" lengthAdjust="spacingAndGlyphs" >23791.06</text>
<text x="1549" y="559" font-size="11.3" fill="#3a3a3a" font-weight="normal" text-anchor="start" textLength="47.6" lengthAdjust="spacingAndGlyphs" >66.12707</text>
<text x="1549" y="583.2" font-size="11.3" fill="#3a3a3a" font-weight="normal" text-anchor="start" textLength="47.6" lengthAdjust="spacingAndGlyphs" >14.29061</text>
<text x="1549" y="614.2" font-size="11.3" fill="#3a3a3a" font-weight="normal" text-anchor="start" textLength="44.5" lengthAdjust="spacingAndGlyphs" >-37.5458</text>
<text x="1549" y="645.1" font-size="11.3" fill="#3a3a3a" font-weight="normal" text-anchor="start" textLength="44.5" lengthAdjust="spacingAndGlyphs" >-89.3823</text>
<text x="1549" y="675.6" font-size="11.3" fill="#3a3a3a" font-weight="normal" text-anchor="start" textLength="44.5" lengthAdjust="spacingAndGlyphs" >-141.219</text>
<text x="1549" y="701.8" font-size="11.3" fill="#3a3a3a" font-weight="normal" text-anchor="start" textLength="44.5" lengthAdjust="spacingAndGlyphs" >-193.055</text>
<path d="M3 549.4H1600" stroke="#dfe3e6" stroke-width="1.2"/>
<rect x="1493.5" y="135.2" width="48.1" height="12.9" fill="#1b4f9c"/>
<text x="1517.5" y="144.5" font-size="9.9" fill="#fff" font-weight="bold" text-anchor="middle" textLength="40.3" lengthAdjust="spacingAndGlyphs" >24811.79</text>
<rect x="1493.5" y="218.1" width="48.1" height="12.9" fill="#5c87bd"/>
<text x="1517.5" y="227.3" font-size="9.9" fill="#fff" font-weight="bold" text-anchor="middle" textLength="40.3" lengthAdjust="spacingAndGlyphs" >24604.19</text>
<rect x="1493.5" y="346.7" width="48.1" height="12.9" fill="#878d94"/>
<text x="1517.5" y="355.9" font-size="9.9" fill="#fff" font-weight="bold" text-anchor="middle" textLength="40.3" lengthAdjust="spacingAndGlyphs" >24282.77</text>
<rect x="1493.5" y="465.4" width="48.1" height="12.9" fill="#5c87bd"/>
<text x="1517.5" y="474.6" font-size="9.9" fill="#fff" font-weight="bold" text-anchor="middle" textLength="40.3" lengthAdjust="spacingAndGlyphs" >23985.49</text>
<path d="M3 685.8H1485" stroke="#7d9bcf" stroke-width="1.1"/>
<rect x="1485" y="679.6" width="49" height="13" fill="#1b4f9c"/>
<svg x="1485" y="679.6" width="49" height="13" viewBox="1485 679.6 49 13">
<text x="1488.5" y="689.2" font-size="9.9" fill="#fff" font-weight="bold" text-anchor="start" textLength="50.4" lengthAdjust="spacingAndGlyphs" >-163.11483</text>
</svg>
<path d="M1538.3 311.4L1546.4 304.5H1597V318.3H1546.4Z" fill="#868e96"/>
<text x="1547.8" y="315.7" font-size="12" fill="#fff" font-weight="bold" text-anchor="start" textLength="48.2" lengthAdjust="spacingAndGlyphs" >24386.63</text>
<text x="1476.4" y="534.3" font-size="13.2" textLength="65" lengthAdjust="spacingAndGlyphs"><tspan fill="#f6913c">04</tspan><tspan fill="#c2c2c2">M </tspan><tspan fill="#f6913c">02</tspan><tspan fill="#c2c2c2">seg</tspan></text>
<rect x="1116.3" y="538.6" width="91" height="9.6" rx="1.6" fill="#0c1116"/>
<text x="1161.8" y="546.6" font-size="8.4" fill="#fff" font-weight="bold" text-anchor="middle" textLength="86" lengthAdjust="spacingAndGlyphs" >ROLLOVER: 18.3.2026</text>
<path d="M3.1 582 L3.9 580.6 L5.5 577.8 L7 574.6 L8.6 571.2 L10 568.8 L11.3 567.6 L12.7 566.8 L14.3 566.5 L16 565.8 L17.9 564.9 L20.1 563.9 L22.6 562.8 L24.6 562.7 L26.2 563.4 L27.6 565.4 L28.8 568.5 L30.2 572 L31.8 575.7 L33.5 579.5 L35.4 583.2 L37.3 586.4 L39.2 588.9 L41 591.1 L42.9 592.9 L44.8 594.8 L46.7 596.7 L48.6 598 L50.4 598.6 L52.3 599.5 L54.2 600.8 L56.1 602.1 L58 603.5 L59.8 603.9 L61.7 603.5 L63.3 603.1 L64.5 602.8 L65.9 601.4 L67.5 598.9 L69.2 596.2 L71.1 593.4 L72.8 591.1 L74.4 589.2 L76.1 587.3 L78 585.4 L79.9 583.9 L81.8 582.6 L83.6 581.5 L85.5 580.6 L87.4 579.6 L89.3 578.7 L91.5 578.1 L94 577.8 L96.2 577.3 L98.1 576.7 L99.8 576.2 L101.3 575.9 L102.9 576 L104.5 576.7 L106.2 578.1 L108.1 580.3 L110 582.4 L111.8 584.6 L113.7 586.5 L115.6 588.1 L117.8 589.2 L120.3 589.8 L122.5 591.1 L124.4 592.9 L126.3 595 L128.1 597.2 L130 598.1 L131.9 597.8 L133.5 597.8 L134.7 598.1 L136.3 599.4 L138.2 601.6 L140 603.6 L141.9 605.5 L143.8 607.1 L145.7 608.6 L147.6 608.3 L149.4 606.2 L151 603.9 L152.3 601.4 L153.7 599.3 L155.2 597.5 L156.8 596.6 L158.4 596.5 L160.1 596.7 L162 597.3 L163.8 597.3 L165.7 596.7 L167.4 596.8 L169 597.5 L170.6 597.4 L172.1 596.3 L173.6 594.4 L174.8 591.5 L176.1 589.5 L177.3 588.2 L178.9 587.8 L180.8 588.1 L182.6 587.8 L184.5 586.8 L186.4 585.6 L188.3 584 L189.8 584.3 L191.1 586.5 L192.7 589.5 L194.5 593.3 L196.4 596.2 L198.3 598.4 L199.4 598.3 L199.8 595.8 L200.6 594 L201.9 593.1 L203.3 592.2 L204.9 591.2 L206.4 591.5 L208 593.1 L209.7 594.5 L211.6 595.8 L213.5 596.3 L215.4 596.2 L217.5 596.6 L220.1 597.5 L222.2 596.9 L224.1 594.9 L226 593.6 L227.9 592.9 L229.6 592.5 L231.2 592.2 L232.7 592.5 L234.3 593.4 L236 595.5 L237.9 598.6 L239.8 601.7 L241.7 604.8 L243.5 607.8 L245.4 610.6 L247.3 613.6 L249.2 616.8 L251.1 618.8 L252.9 619.7 L254.8 619.7 L256.7 618.8 L258.6 617.2 L260.5 615 L262.3 613.2 L264.2 611.9 L266.1 611.4 L268 611.8 L269.9 612.5 L271.7 613.5 L273.6 614.2 L275.5 614.9 L277.4 615.3 L279.3 615.4 L281.1 614.7 L283 613.4 L284.9 612.4 L286.8 611.7 L288.7 610.5 L290.5 608.6 L292.4 606.4 L294.3 603.9 L296.2 601.9 L298.1 600.3 L299.9 598.4 L301.8 596.2 L303.7 593.7 L305.6 590.9 L307.5 588.2 L309.3 585.7 L311.2 583.4 L313.1 581.2 L315 579.2 L316.9 577.3 L318.4 575.8 L319.7 574.6 L321.2 574.5 L323.1 575.3 L325 574.8 L326.9 572.9 L328.8 571.5 L330.6 570.7 L332.5 570.5 L334.4 570.9 L336 571.7 L337.2 573 L338.8 574 L340.7 574.7 L342.5 576 L344.4 577.9 L346.3 579.9 L348.2 582.1 L350.1 584 L351.9 585.6 L353.8 587.9 L355.7 591.1 L357.6 594.2 L359.5 597.3 L361 600.5 L362.3 603.6 L363.5 606.7 L364.8 609.9 L366 613 L367.3 616.1 L368.7 619.3 L370.3 622.6 L371.7 624 L372.9 623.6 L374.3 622.6 L375.9 621 L377.5 620 L379 619.7 L380.6 618.8 L382.2 617.2 L383.9 615.7 L385.8 614.1 L387.7 612.8 L389.5 611.9 L391.4 611 L393.3 610 L395.2 609.5 L397.1 609.5 L398.5 610 L399.5 611 L400.9 611.2 L402.8 610.7 L404.7 611 L406.6 612.1 L408.5 613.3 L410.3 614.6 L412.2 615 L414.1 614.7 L416 613.8 L417.9 612.2 L419.7 610.5 L421.6 608.6 L423.5 607 L425.4 605.8 L427.3 604.9 L429.1 604.4 L430.7 604.3 L432 604.4 L433.5 603.4 L435.4 601.2 L437.3 598.6 L439.2 595.5 L441 592.8 L442.9 590.6 L444.8 589 L446.7 588.1 L448.9 587.8 L451.4 588.1 L453.6 588.4 L455.5 588.7 L457.3 588.9 L459.2 589.1 L461.1 589 L463 588.7 L464.8 588.8 L466.7 589.3 L468.6 590.3 L470.5 591.8 L472.4 592.9 L474.2 593.6 L476.1 593.7 L478 593.4 L479.9 593.7 L481.8 594.7 L483.6 596.4 L485.5 598.9 L487.1 601.4 L488.3 603.9 L489.9 606.4 L491.8 608.9 L493.7 611.3 L495.6 613.5 L497.1 614.9 L498.4 615.5 L499.6 615.5 L500.9 614.9 L502.1 613.5 L503.4 611.3 L504.9 608.6 L506.8 605.5 L508.7 602 L510.6 598.3 L512.5 594.5 L514.3 590.8 L516.2 587.5 L518.1 584.6 L520 581.8 L521.9 579 L523.7 576.2 L525.6 573.4 L527.5 571.3 L529.4 570.1 L531.6 568.7 L534.1 567.3 L536.3 566.8 L538.2 567.3 L539.9 566.1 L541.4 563.1 L543 562.1 L544.6 563.2 L546.1 564.6 L547.7 566.2 L549 569 L549.9 573.1 L551 577.3 L552.3 581.7 L553.5 585.7 L554.8 589.5 L556 593.6 L557.3 598 L558.8 602.7 L560.7 607.7 L562.6 611.4 L564.5 613.9 L566.4 615.5 L568.2 616.1 L570.1 616.6 L572 616.9 L573.9 617.6 L575.8 618.7 L577.5 618.5 L579 617.1 L580.8 615.3 L582.6 613.2 L584.7 612.5 L586.9 613.5 L589.2 614 L591.7 614.1 L593.9 614 L595.8 613.5 L597.6 613.9 L599.2 615.2 L600.9 615.3 L602.8 614.4 L604.4 611.7 L605.6 607.4 L606.9 604.2 L608.1 602.3 L609.7 600.2 L611.6 597.6 L613.5 594.8 L615.4 591.7 L617.2 588.9 L619.1 586.4 L621 584.2 L622.9 582.3 L624.7 580.6 L626.6 579 L628.5 577.9 L630.4 577.3 L632.3 577.1 L634.1 577.4 L636 577.8 L637.9 578.1 L639.8 578.1 L641.7 577.8 L643.5 577.2 L645.4 576.5 L647.3 575.8 L649.2 575.3 L651.1 575.5 L652.9 576.2 L654.8 576.8 L656.7 577.2 L658.6 576.9 L660.5 576.1 L662.3 575.6 L664.2 575.2 L666.1 575.2 L668 575.3 L669.9 575.6 L671.7 576.1 L673.6 577.1 L675.5 578.7 L677.4 579.9 L679.3 580.9 L681.1 581.8 L683 582.8 L684.9 583.4 L686.8 583.7 L688.7 584.5 L690.5 585.7 L692.1 586.8 L693.4 587.8 L694.9 587.1 L696.8 585 L698.7 582.8 L700.6 580.6 L702.4 578.8 L704.3 577.6 L706.2 575.7 L708.1 573.2 L710 570.9 L711.8 568.7 L713.7 566.9 L715.6 565.7 L717.5 565.1 L719.4 565.1 L720.9 565.1 L722.2 565.3 L723.4 564.3 L724.7 562.3 L726.1 560.7 L727.7 559.6 L729.1 559.6 L730.3 560.7 L731.7 562.2 L733.3 564.1 L735 564.9 L736.9 564.6 L738.8 565.2 L740.7 566.8 L742.5 568.7 L744.4 570.9 L746.3 572.4 L748.2 573.4 L750.1 574 L751.9 574.3 L753.8 575 L755.7 576.1 L757.6 576.5 L759.5 576.4 L761.3 576.2 L763.2 575.9 L765.1 575.9 L767 576.2 L768.9 577.3 L770.7 579.2 L772.6 581 L774.5 582.9 L776.4 584.6 L778.3 586.2 L780.1 587.6 L782 588.9 L783.9 590 L785.8 590.9 L787.7 591.8 L789.5 592.8 L791.4 593.4 L793.3 593.5 L795.2 593.3 L797.1 592.7 L798.5 592.6 L799.5 593 L801.3 594 L803.8 595.4 L806.3 596.4 L808.8 596.8 L811.3 596.7 L813.8 596.1 L816.3 596.2 L818.8 597 L821.3 597.8 L823.8 598.7 L826.3 599.1 L828.8 599.1 L831 598.5 L832.9 597.1 L834.8 595.5 L836.7 593.6 L838.5 592.2 L840.4 591.2 L841.8 591.4 L842.8 592.6 L844 594.2 L845.6 596.1 L847.3 597.5 L849.2 598.4 L850.8 599.3 L852 600 L853.6 600 L855.5 599.3 L857.3 598.6 L859.2 598.1 L861.1 597.8 L863 597.7 L864.8 597.2 L866.7 596.2 L868.6 595 L870.5 593.4 L872.4 591.4 L874.2 588.9 L876.1 587.1 L878 586.2 L879.9 585.4 L881.8 584.8 L883.6 584.2 L885.5 583.5 L887.4 582.9 L889.3 582.3 L891.2 581 L893 579.2 L894.9 576.8 L896.8 574 L898.7 571.3 L900.6 568.8 L902.1 566.3 L903.4 563.8 L904.6 560.7 L905.9 556.9 L907.1 554.3 L908.4 552.7 L910 551.3 L911.8 550 L913.4 549.2 L914.7 548.7 L915.9 549.1 L917.2 550.1 L918.4 551.6 L919.7 553.5 L920.9 555.5 L922.2 557.7 L923.4 559.7 L924.7 561.6 L926.3 563.2 L928.1 564.4 L930 565.8 L931.9 567.4 L933.8 568.5 L935.7 569.1 L937.5 569.6 L939.4 569.9 L941.3 570.9 L943.2 572.4 L945.1 574 L946.9 575.6 L948.8 577 L950.7 578.2 L952.6 579 L954.4 579.3 L956.6 579.5 L959.1 579.5 L961.3 579.8 L963.2 580.4 L965.1 581.2 L967 582.1 L968.9 582.9 L970.7 583.5 L972.6 584.1 L974.5 584.6 L976.4 584.9 L978.3 585.1 L979.8 584.6 L981.1 583.7 L982.6 582.3 L984.5 580.4 L986.4 578.7 L988.3 577.1 L990.2 575.7 L992 574.5 L993.9 573.2 L995.8 572 L997.6 571.3 L999.2 571.3 L1000.9 571 L1002.8 570.2 L1005 569.7 L1007.5 569.5 L1010 569.6 L1012.5 569.9 L1015 570.3 L1017.5 570.8 L1020.1 570.9 L1022.6 570.5 L1025.1 570.2 L1027.6 569.9 L1030.1 569.7 L1032.6 569.5 L1035.1 569.9 L1037.6 570.9 L1040.1 572 L1042.6 573.2 L1045.1 574.5 L1047.6 575.7 L1050.1 576.8 L1052.6 577.8 L1055.1 578.2 L1057.6 578.2 L1060.2 578.5 L1062.7 579.2 L1064.8 580.1 L1066.7 581.4 L1068.6 582.9 L1070.5 584.8 L1072.4 586.8 L1074.2 589 L1075.8 591.7 L1077.1 594.8 L1078.3 598.9 L1079.6 603.9 L1080.8 608.6 L1082.1 613 L1083.3 616.4 L1084.6 618.9 L1086.2 620.8 L1088 622.1 L1089.6 623.6 L1090.9 625.5 L1091.9 627 L1092.9 628.2 L1094.1 629.9 L1095.7 632.1 L1097.4 632.5 L1099.3 631.3 L1101.2 629.6 L1103.1 627.4 L1104.9 625.3 L1106.8 623.4 L1108.7 622.3 L1110.6 622 L1112.5 622.3 L1114.3 623.3 L1116.2 623.3 L1118.1 622.3 L1119.7 621.4 L1120.9 620.5 L1122.2 619.1 L1123.4 617.2 L1124.7 615.9 L1125.9 615.3 L1127.2 615.6 L1128.4 616.9 L1129.7 618.1 L1131 619.4 L1132.5 621.3 L1134.4 623.8 L1136 626.6 L1137.2 629.7 L1138.5 632.5 L1139.7 635 L1141.1 637.3 L1142.7 639.3 L1143.5 640.3" stroke="#35b27a" stroke-width="1" fill="none" stroke-linejoin="round"/>
<path d="M2.2 577.2H4.2V588.7H2.2ZM4.1 575.6H6V588.7H4.1ZM5.9 574.2H7.9V588.7H5.9ZM7.8 572.8H9.8V588.7H7.8ZM9.7 573.8H11.6V588.7H9.7ZM11.5 575.2H13.5V588.7H11.5ZM13.4 577.4H15.3V588.7H13.4ZM15.2 579H17.2V588.7H15.2ZM17.1 580.2H19V588.7H17.1ZM18.9 581.5H20.9V588.7H18.9ZM20.8 582.7H22.7V588.7H20.8ZM22.6 584.1H24.6V588.7H22.6ZM24.5 585.6H26.5V588.7H24.5ZM26.4 587.2H28.3V588.7H26.4ZM65.3 587.5H67.3V588.7H65.3ZM67.2 584.7H69.1V588.7H67.2ZM69 582.4H71V588.7H69ZM70.9 580.5H72.8V588.7H70.9ZM72.7 579.7H74.7V588.7H72.7ZM74.6 579.1H76.6V588.7H74.6ZM76.5 578.9H78.4V588.7H76.5ZM78.3 578.9H80.3V588.7H78.3ZM80.2 579.2H82.1V588.7H80.2ZM82 579.7H84V588.7H82ZM83.9 580.9H85.8V588.7H83.9ZM85.7 582.1H87.7V588.7H85.7ZM87.6 583.2H89.5V588.7H87.6ZM89.4 584.2H91.4V588.7H89.4ZM91.3 585.2H93.3V588.7H91.3ZM93.2 586.1H95.1V588.7H93.2ZM95 586.4H97V588.7H95ZM96.9 586.6H98.8V588.7H96.9ZM98.7 586.6H100.7V588.7H98.7ZM100.6 586.6H102.5V588.7H100.6ZM102.4 586.6H104.4V588.7H102.4ZM104.3 587.8H106.2V588.7H104.3ZM152.5 584.3H154.5V588.7H152.5ZM154.4 581.1H156.3V588.7H154.4ZM156.2 581.2H158.2V588.7H156.2ZM158.1 581.8H160.1V588.7H158.1ZM160 583.3H161.9V588.7H160ZM161.8 585H163.8V588.7H161.8ZM163.7 586.4H165.6V588.7H163.7ZM165.5 586.5H167.5V588.7H165.5ZM167.4 587.4H169.3V588.7H167.4ZM172.9 585.8H174.9V588.7H172.9ZM174.8 581.1H176.8V588.7H174.8ZM176.7 577.5H178.6V588.7H176.7ZM178.5 574.9H180.5V588.7H178.5ZM180.4 575.7H182.3V588.7H180.4ZM182.2 577.2H184.2V588.7H182.2ZM184.1 578.6H186V588.7H184.1ZM185.9 580.7H187.9V588.7H185.9ZM187.8 583.9H189.7V588.7H187.8ZM204.5 587.4H206.4V588.7H204.5ZM206.3 587.4H208.3V588.7H206.3ZM224.9 586.4H226.9V588.7H224.9ZM226.8 585.6H228.7V588.7H226.8ZM228.6 585.2H230.6V588.7H228.6ZM230.5 585.3H232.4V588.7H230.5ZM232.3 585.8H234.3V588.7H232.3ZM234.2 587.1H236.1V588.7H234.2ZM260.2 586.8H262.1V588.7H260.2ZM262 584.6H264V588.7H262ZM263.9 583.6H265.8V588.7H263.9ZM265.7 583.6H267.7V588.7H265.7ZM267.6 584.4H269.5V588.7H267.6ZM269.4 585.9H271.4V588.7H269.4ZM271.3 587.3H273.2V588.7H271.3ZM282.4 587.7H284.4V588.7H282.4ZM284.3 586.3H286.2V588.7H284.3ZM286.1 585.3H288.1V588.7H286.1ZM288 584.3H289.9V588.7H288ZM289.8 583.3H291.8V588.7H289.8ZM291.7 582.4H293.7V588.7H291.7ZM293.6 581.5H295.5V588.7H293.6ZM295.4 580.9H297.4V588.7H295.4ZM297.3 580.5H299.2V588.7H297.3ZM299.1 580.1H301.1V588.7H299.1ZM301 579.7H302.9V588.7H301ZM302.8 579.2H304.8V588.7H302.8ZM304.7 578.7H306.6V588.7H304.7ZM306.5 578.3H308.5V588.7H306.5ZM308.4 577.8H310.4V588.7H308.4ZM310.3 577.4H312.2V588.7H310.3ZM312.1 577.1H314.1V588.7H312.1ZM314 577.1H315.9V588.7H314ZM315.8 577.4H317.8V588.7H315.8ZM317.7 578.5H319.6V588.7H317.7ZM319.5 580.4H321.5V588.7H319.5ZM321.4 582.7H323.3V588.7H321.4ZM323.2 583.9H325.2V588.7H323.2ZM325.1 584.4H327.1V588.7H325.1ZM327 584.3H328.9V588.7H327ZM328.8 584.2H330.8V588.7H328.8ZM330.7 584.5H332.6V588.7H330.7ZM332.5 585H334.5V588.7H332.5ZM334.4 586.3H336.3V588.7H334.4ZM336.2 588H338.2V588.7H336.2ZM380.8 587.4H382.7V588.7H380.8ZM382.6 584.7H384.6V588.7H382.6ZM384.5 583.2H386.4V588.7H384.5ZM386.3 582.9H388.3V588.7H386.3ZM388.2 582.6H390.1V588.7H388.2ZM390 583.2H392V588.7H390ZM391.9 583.8H393.9V588.7H391.9ZM393.8 584H395.7V588.7H393.8ZM395.6 584.1H397.6V588.7H395.6ZM397.5 584.4H399.4V588.7H397.5ZM399.3 587.4H401.3V588.7H399.3ZM401.2 587.6H403.1V588.7H401.2ZM403 587.8H405V588.7H403ZM417.9 587.6H419.8V588.7H417.9ZM419.7 585.4H421.7V588.7H419.7ZM421.6 583.9H423.5V588.7H421.6ZM423.4 582.9H425.4V588.7H423.4ZM425.3 582.6H427.3V588.7H425.3ZM427.2 582.6H429.1V588.7H427.2ZM429 583.6H431V588.7H429ZM430.9 585.3H432.8V588.7H430.9ZM432.7 584.9H434.7V588.7H432.7ZM434.6 584.1H436.5V588.7H434.6ZM436.4 582.4H438.4V588.7H436.4ZM438.3 580.9H440.2V588.7H438.3ZM440.1 580.1H442.1V588.7H440.1ZM442 579.4H444V588.7H442ZM443.9 579.1H445.8V588.7H443.9ZM445.7 579H447.7V588.7H445.7ZM447.6 580.2H449.5V588.7H447.6ZM449.4 581.6H451.4V588.7H449.4ZM451.3 583.5H453.2V588.7H451.3ZM453.1 585.3H455.1V588.7H453.1ZM455 587.2H457V588.7H455ZM503.2 585H505.2V588.7H503.2ZM505.1 582.1H507.1V588.7H505.1ZM507 579.9H508.9V588.7H507ZM508.8 578.1H510.8V588.7H508.8ZM510.7 576.3H512.6V588.7H510.7ZM512.5 575.4H514.5V588.7H512.5ZM514.4 574.5H516.3V588.7H514.4ZM516.2 575.1H518.2V588.7H516.2ZM518.1 575.7H520V588.7H518.1ZM519.9 575.7H521.9V588.7H519.9ZM521.8 575.7H523.8V588.7H521.8ZM523.7 575.7H525.6V588.7H523.7ZM525.5 576.3H527.5V588.7H525.5ZM527.4 577.4H529.3V588.7H527.4ZM529.2 578.9H531.2V588.7H529.2ZM531.1 580.4H533V588.7H531.1ZM532.9 581.7H534.9V588.7H532.9ZM534.8 582.9H536.7V588.7H534.8ZM536.6 584.1H538.6V588.7H536.6ZM538.5 584.4H540.5V588.7H538.5ZM540.4 582.6H542.3V588.7H540.4ZM542.2 582.6H544.2V588.7H542.2ZM544.1 584.5H546V588.7H544.1ZM581.2 586H583.1V588.7H581.2ZM583 584.4H585V588.7H583ZM584.9 585.6H586.8V588.7H584.9ZM586.7 586.6H588.7V588.7H586.7ZM588.6 587.4H590.6V588.7H588.6ZM590.5 587.8H592.4V588.7H590.5ZM592.3 588H594.3V588.7H592.3ZM603.4 587.3H605.4V588.7H603.4ZM605.3 578.8H607.3V588.7H605.3ZM607.2 577.9H609.1V588.7H607.2ZM609 577H611V588.7H609ZM610.9 576.1H612.8V588.7H610.9ZM612.7 575.1H614.7V588.7H612.7ZM614.6 574.6H616.5V588.7H614.6ZM616.4 574.1H618.4V588.7H616.4ZM618.3 574.4H620.2V588.7H618.3ZM620.1 574.8H622.1V588.7H620.1ZM622 576.1H624V588.7H622ZM623.9 577.4H625.8V588.7H623.9ZM625.7 579.2H627.7V588.7H625.7ZM627.6 581.1H629.5V588.7H627.6ZM629.4 582.7H631.4V588.7H629.4ZM631.3 584.2H633.2V588.7H631.3ZM633.1 585.9H635.1V588.7H633.1ZM635 587.5H636.9V588.7H635ZM642.4 587.7H644.4V588.7H642.4ZM644.3 587.1H646.2V588.7H644.3ZM646.1 586.7H648.1V588.7H646.1ZM648 586.3H649.9V588.7H648ZM649.8 586.4H651.8V588.7H649.8ZM651.7 587.1H653.6V588.7H651.7ZM653.5 587.9H655.5V588.7H653.5ZM661 587.6H662.9V588.7H661ZM662.8 587.6H664.8V588.7H662.8ZM664.7 587.6H666.6V588.7H664.7ZM666.5 587.6H668.5V588.7H666.5ZM668.4 587.6H670.3V588.7H668.4ZM670.2 587.6H672.2V588.7H670.2ZM698.1 586.4H700V588.7H698.1ZM699.9 584.7H701.9V588.7H699.9ZM701.8 583.2H703.7V588.7H701.8ZM703.6 582.6H705.6V588.7H703.6ZM705.5 582H707.5V588.7H705.5ZM707.4 580.8H709.3V588.7H707.4ZM709.2 579.5H711.2V588.7H709.2ZM711.1 579.2H713V588.7H711.1ZM712.9 578.9H714.9V588.7H712.9ZM714.8 580H716.7V588.7H714.8ZM716.6 581.2H718.6V588.7H716.6ZM718.5 582.5H720.4V588.7H718.5ZM720.3 583.7H722.3V588.7H720.3ZM722.2 583.8H724.2V588.7H722.2ZM724.1 583.6H726V588.7H724.1ZM725.9 583.7H727.9V588.7H725.9ZM727.8 583.8H729.7V588.7H727.8ZM729.6 585.9H731.6V588.7H729.6ZM761.2 587.9H763.1V588.7H761.2ZM763 587.9H765V588.7H763ZM833.5 586.6H835.5V588.7H833.5ZM835.4 584.5H837.3V588.7H835.4ZM837.2 583.6H839.2V588.7H837.2ZM839.1 583.2H841.1V588.7H839.1ZM841 583.7H842.9V588.7H841ZM842.8 586.7H844.8V588.7H842.8ZM859.5 587.6H861.5V588.7H859.5ZM861.4 587.6H863.3V588.7H861.4ZM863.2 587.6H865.2V588.7H863.2ZM865.1 587.6H867V588.7H865.1ZM866.9 587.6H868.9V588.7H866.9ZM868.8 587.6H870.7V588.7H868.8ZM870.6 583.7H872.6V588.7H870.6ZM872.5 582.1H874.5V588.7H872.5ZM874.4 580.8H876.3V588.7H874.4ZM876.2 581.6H878.2V588.7H876.2ZM878.1 582.4H880V588.7H878.1ZM879.9 583.1H881.9V588.7H879.9ZM881.8 583.9H883.7V588.7H881.8ZM883.6 584.2H885.6V588.7H883.6ZM885.5 584.5H887.4V588.7H885.5ZM887.3 584.7H889.3V588.7H887.3ZM889.2 584.9H891.2V588.7H889.2ZM891.1 584.1H893V588.7H891.1ZM892.9 583.3H894.9V588.7H892.9ZM894.8 581.8H896.7V588.7H894.8ZM896.6 580.2H898.6V588.7H896.6ZM898.5 579H900.4V588.7H898.5ZM900.3 577.7H902.3V588.7H900.3ZM902.2 576.2H904.1V588.7H902.2ZM904 574.7H906V588.7H904ZM905.9 572.3H907.9V588.7H905.9ZM907.8 571.9H909.7V588.7H907.8ZM909.6 573.6H911.6V588.7H909.6ZM911.5 574.8H913.4V588.7H911.5ZM913.3 576H915.3V588.7H913.3ZM915.2 577.8H917.1V588.7H915.2ZM917 581.7H919V588.7H917ZM982 587H983.9V588.7H982ZM983.8 585.8H985.8V588.7H983.8ZM985.7 584.5H987.7V588.7H985.7ZM987.6 583.7H989.5V588.7H987.6ZM989.4 582.9H991.4V588.7H989.4ZM991.3 582.9H993.2V588.7H991.3ZM993.1 582.9H995.1V588.7H993.1ZM995 582.9H996.9V588.7H995ZM996.8 583.3H998.8V588.7H996.8ZM998.7 583.6H1000.6V588.7H998.7ZM1000.5 584H1002.5V588.7H1000.5ZM1002.4 584.4H1004.4V588.7H1002.4ZM1004.3 585.3H1006.2V588.7H1004.3ZM1006.1 586.4H1008.1V588.7H1006.1ZM1008 587.1H1009.9V588.7H1008ZM1009.8 587.7H1011.8V588.7H1009.8ZM1011.7 587.9H1013.6V588.7H1011.7ZM1013.5 588H1015.5V588.7H1013.5ZM1015.4 588H1017.3V588.7H1015.4ZM1026.5 587.7H1028.5V588.7H1026.5ZM1028.4 587.6H1030.3V588.7H1028.4ZM1030.2 587.6H1032.2V588.7H1030.2ZM1032.1 587.6H1034V588.7H1032.1ZM1033.9 587.6H1035.9V588.7H1033.9ZM1102.6 586.8H1104.6V588.7H1102.6ZM1104.5 584.9H1106.4V588.7H1104.5ZM1106.3 583.1H1108.3V588.7H1106.3ZM1108.2 581.9H1110.1V588.7H1108.2ZM1110 581.6H1112V588.7H1110ZM1111.9 582.9H1113.8V588.7H1111.9ZM1113.7 584.8H1115.7V588.7H1113.7ZM1115.6 587H1117.5V588.7H1115.6ZM1117.4 587.7H1119.4V588.7H1117.4ZM1119.3 587H1121.3V588.7H1119.3ZM1121.2 585H1123.1V588.7H1121.2ZM1123 583.3H1125V588.7H1123ZM1124.9 582.4H1126.8V588.7H1124.9ZM1126.7 583.9H1128.7V588.7H1126.7ZM1128.6 586.3H1130.5V588.7H1128.6Z" fill="#1fae6d"/>
<path d="M28.2 587.9H30.2V590H28.2ZM30.1 587.9H32V594.2H30.1ZM31.9 587.9H33.9V597.1H31.9ZM33.8 587.9H35.7V599.5H33.8ZM35.6 587.9H37.6V601.6H35.6ZM37.5 587.9H39.4V602.7H37.5ZM39.3 587.9H41.3V603.6H39.3ZM41.2 587.9H43.2V603.1H41.2ZM43.1 587.9H45V602.4H43.1ZM44.9 587.9H46.9V599.4H44.9ZM46.8 587.9H48.7V596.9H46.8ZM48.6 587.9H50.6V595H48.6ZM50.5 587.9H52.4V593.8H50.5ZM52.3 587.9H54.3V592.9H52.3ZM54.2 587.9H56.1V592.4H54.2ZM56 587.9H58V592.1H56ZM57.9 587.9H59.9V591.8H57.9ZM59.8 587.9H61.7V591.5H59.8ZM61.6 587.9H63.6V590.5H61.6ZM63.5 587.9H65.4V589.1H63.5ZM106.1 587.9H108.1V589.1H106.1ZM108 587.9H110V590.5H108ZM109.9 587.9H111.8V592H109.9ZM111.7 587.9H113.7V593.4H111.7ZM113.6 587.9H115.5V594.6H113.6ZM115.4 587.9H117.4V595.3H115.4ZM117.3 587.9H119.2V595.6H117.3ZM119.1 587.9H121.1V595.4H119.1ZM121 587.9H122.9V594.8H121ZM122.8 587.9H124.8V593.8H122.8ZM124.7 587.9H126.7V592.7H124.7ZM126.6 587.9H128.5V593H126.6ZM128.4 587.9H130.4V593.1H128.4ZM130.3 587.9H132.2V592.2H130.3ZM132.1 587.9H134.1V591.3H132.1ZM134 587.9H135.9V591H134ZM135.8 587.9H137.8V590.9H135.8ZM137.7 587.9H139.6V591.8H137.7ZM139.5 587.9H141.5V592.7H139.5ZM141.4 587.9H143.4V593.6H141.4ZM143.3 587.9H145.2V594.5H143.3ZM145.1 587.9H147.1V594.7H145.1ZM147 587.9H148.9V593.9H147ZM148.8 587.9H150.8V591.3H148.8ZM189.6 587.9H191.6V589.9H189.6ZM191.5 587.9H193.5V594H191.5ZM193.4 587.9H195.3V596.3H193.4ZM195.2 587.9H197.2V597.9H195.2ZM197.1 587.9H199V597.4H197.1ZM198.9 587.9H200.9V595.4H198.9ZM200.8 587.9H202.7V592.8H200.8ZM202.6 587.9H204.6V588.6H202.6ZM210.1 587.9H212V589.2H210.1ZM211.9 587.9H213.9V589.8H211.9ZM213.8 587.9H215.7V590.3H213.8ZM215.6 587.9H217.6V590.4H215.6ZM217.5 587.9H219.4V590.4H217.5ZM219.3 587.9H221.3V590.3H219.3ZM221.2 587.9H223.1V589.5H221.2ZM236 587.9H238V589.6H236ZM237.9 587.9H239.8V592.9H237.9ZM239.7 587.9H241.7V595.8H239.7ZM241.6 587.9H243.6V597.6H241.6ZM243.5 587.9H245.4V599.3H243.5ZM245.3 587.9H247.3V600.5H245.3ZM247.2 587.9H249.1V601.1H247.2ZM249 587.9H251V600.2H249ZM250.9 587.9H252.8V598.4H250.9ZM252.7 587.9H254.7V596.6H252.7ZM254.6 587.9H256.5V593.9H254.6ZM256.4 587.9H258.4V591.3H256.4ZM258.3 587.9H260.3V589.1H258.3ZM273.1 587.9H275.1V588.7H273.1ZM275 587.9H277V589.5H275ZM276.9 587.9H278.8V589.5H276.9ZM278.7 587.9H280.7V589.5H278.7ZM280.6 587.9H282.5V589.4H280.6ZM338.1 587.9H340V589.1H338.1ZM339.9 587.9H341.9V589.5H339.9ZM341.8 587.9H343.8V589.9H341.8ZM343.7 587.9H345.6V590.7H343.7ZM345.5 587.9H347.5V592.5H345.5ZM347.4 587.9H349.3V593.5H347.4ZM349.2 587.9H351.2V594.4H349.2ZM351.1 587.9H353V595.1H351.1ZM352.9 587.9H354.9V595.7H352.9ZM354.8 587.9H356.7V596.6H354.8ZM356.6 587.9H358.6V597.5H356.6ZM358.5 587.9H360.5V600.8H358.5ZM360.4 587.9H362.3V603.1H360.4ZM362.2 587.9H364.2V604.1H362.2ZM364.1 587.9H366V604.8H364.1ZM365.9 587.9H367.9V605.5H365.9ZM367.8 587.9H369.7V605.6H367.8ZM369.6 587.9H371.6V605.3H369.6ZM371.5 587.9H373.4V603H371.5ZM373.3 587.9H375.3V599.4H373.3ZM375.2 587.9H377.2V594.9H375.2ZM377.1 587.9H379V591.3H377.1ZM378.9 587.9H380.9V589.4H378.9ZM406.7 587.9H408.7V589.2H406.7ZM408.6 587.9H410.6V590.1H408.6ZM410.5 587.9H412.4V590.7H410.5ZM412.3 587.9H414.3V590.3H412.3ZM414.2 587.9H416.1V589.8H414.2ZM456.9 587.9H458.8V588.6H456.9ZM458.7 587.9H460.7V589.2H458.7ZM460.6 587.9H462.5V589.3H460.6ZM462.4 587.9H464.4V589.4H462.4ZM464.3 587.9H466.2V589.5H464.3ZM466.1 587.9H468.1V589.6H466.1ZM468 587.9H469.9V589.6H468ZM469.8 587.9H471.8V589.7H469.8ZM471.7 587.9H473.7V589.7H471.7ZM473.6 587.9H475.5V589.7H473.6ZM475.4 587.9H477.4V589.7H475.4ZM477.3 587.9H479.2V589.8H477.3ZM479.1 587.9H481.1V589.8H479.1ZM481 587.9H482.9V589.8H481ZM482.8 587.9H484.8V589.9H482.8ZM484.7 587.9H486.6V590.9H484.7ZM486.5 587.9H488.5V594.5H486.5ZM488.4 587.9H490.4V597.2H488.4ZM490.3 587.9H492.2V597.8H490.3ZM492.1 587.9H494.1V598.2H492.1ZM494 587.9H495.9V597.9H494ZM495.8 587.9H497.8V597.5H495.8ZM497.7 587.9H499.6V596.9H497.7ZM499.5 587.9H501.5V595.9H499.5ZM501.4 587.9H503.3V591.5H501.4ZM545.9 587.9H547.9V588.9H545.9ZM547.8 587.9H549.7V593.2H547.8ZM549.6 587.9H551.6V599.4H549.6ZM551.5 587.9H553.4V603.1H551.5ZM553.3 587.9H555.3V606.8H553.3ZM555.2 587.9H557.2V610.4H555.2ZM557.1 587.9H559V612.6H557.1ZM558.9 587.9H560.9V613H558.9ZM560.8 587.9H562.7V610.8H560.8ZM562.6 587.9H564.6V608.1H562.6ZM564.5 587.9H566.4V605.1H564.5ZM566.3 587.9H568.3V601.4H566.3ZM568.2 587.9H570.1V597.7H568.2ZM570 587.9H572V594.5H570ZM571.9 587.9H573.9V592.7H571.9ZM573.8 587.9H575.7V591.4H573.8ZM575.6 587.9H577.6V590.2H575.6ZM577.5 587.9H579.4V589.4H577.5ZM596 587.9H598V589H596ZM597.9 587.9H599.8V589.3H597.9ZM599.7 587.9H601.7V589.1H599.7ZM601.6 587.9H603.5V589.1H601.6ZM672.1 587.9H674.1V588.6H672.1ZM674 587.9H675.9V590H674ZM675.8 587.9H677.8V590.9H675.8ZM677.7 587.9H679.6V591.6H677.7ZM679.5 587.9H681.5V591.9H679.5ZM681.4 587.9H683.3V592.3H681.4ZM683.2 587.9H685.2V592H683.2ZM685.1 587.9H687V591.5H685.1ZM686.9 587.9H688.9V591.2H686.9ZM688.8 587.9H690.8V591.5H688.8ZM690.7 587.9H692.6V591.8H690.7ZM692.5 587.9H694.5V591.6H692.5ZM694.4 587.9H696.3V590.7H694.4ZM696.2 587.9H698.2V588.8H696.2ZM731.5 587.9H733.4V588.9H731.5ZM733.3 587.9H735.3V589.1H733.3ZM735.2 587.9H737.1V589.1H735.2ZM737 587.9H739V589.1H737ZM738.9 587.9H740.9V589.8H738.9ZM740.8 587.9H742.7V591.5H740.8ZM742.6 587.9H744.6V593H742.6ZM744.5 587.9H746.4V594.5H744.5ZM746.3 587.9H748.3V593.9H746.3ZM748.2 587.9H750.1V593.2H748.2ZM750 587.9H752V592.3H750ZM751.9 587.9H753.8V591.4H751.9ZM753.7 587.9H755.7V591.1H753.7ZM755.6 587.9H757.6V590.8H755.6ZM757.5 587.9H759.4V589.8H757.5ZM759.3 587.9H761.3V588.8H759.3ZM768.6 587.9H770.5V589.3H768.6ZM770.4 587.9H772.4V590.8H770.4ZM772.3 587.9H774.3V592.2H772.3ZM774.2 587.9H776.1V593.1H774.2ZM776 587.9H778V593.9H776ZM777.9 587.9H779.8V594H777.9ZM779.7 587.9H781.7V594.1H779.7ZM781.6 587.9H783.5V594H781.6ZM783.4 587.9H785.4V593.7H783.4ZM785.3 587.9H787.2V593.3H785.3ZM787.1 587.9H789.1V593.1H787.1ZM789 587.9H791V592.9H789ZM790.9 587.9H792.8V592.6H790.9ZM792.7 587.9H794.7V591.7H792.7ZM794.6 587.9H796.5V590.7H794.6ZM796.4 587.9H798.4V588.9H796.4ZM798.3 587.9H800.2V589.2H798.3ZM800.1 587.9H802.1V589.2H800.1ZM802 587.9H803.9V589.2H802ZM803.8 587.9H805.8V589.2H803.8ZM805.7 587.9H807.7V589.2H805.7ZM807.6 587.9H809.5V589.2H807.6ZM809.4 587.9H811.4V589.2H809.4ZM811.3 587.9H813.2V589.2H811.3ZM813.1 587.9H815.1V588.6H813.1ZM815 587.9H816.9V588.6H815ZM816.8 587.9H818.8V588.6H816.8ZM818.7 587.9H820.6V588.6H818.7ZM820.5 587.9H822.5V588.6H820.5ZM822.4 587.9H824.4V588.6H822.4ZM824.3 587.9H826.2V588.6H824.3ZM826.1 587.9H828.1V588.6H826.1ZM828 587.9H829.9V588.6H828ZM829.8 587.9H831.8V588.6H829.8ZM844.7 587.9H846.6V589.8H844.7ZM846.5 587.9H848.5V590.7H846.5ZM848.4 587.9H850.3V591.6H848.4ZM850.2 587.9H852.2V592.3H850.2ZM852.1 587.9H854V592H852.1ZM853.9 587.9H855.9V590.9H853.9ZM855.8 587.9H857.8V589.9H855.8ZM918.9 587.9H920.9V588.7H918.9ZM920.8 587.9H922.7V591.4H920.8ZM922.6 587.9H924.6V594.7H922.6ZM924.5 587.9H926.4V596.4H924.5ZM926.3 587.9H928.3V596.5H926.3ZM928.2 587.9H930.1V596.6H928.2ZM930 587.9H932V596.2H930ZM931.9 587.9H933.8V595.7H931.9ZM933.7 587.9H935.7V594.4H933.7ZM935.6 587.9H937.6V593.3H935.6ZM937.5 587.9H939.4V592.3H937.5ZM939.3 587.9H941.3V591.1H939.3ZM941.2 587.9H943.1V590.4H941.2ZM943 587.9H945V591.3H943ZM944.9 587.9H946.8V592.2H944.9ZM946.7 587.9H948.7V592.8H946.7ZM948.6 587.9H950.5V593.2H948.6ZM950.4 587.9H952.4V592.9H950.4ZM952.3 587.9H954.3V592.5H952.3ZM954.2 587.9H956.1V591.9H954.2ZM956 587.9H958V591.2H956ZM957.9 587.9H959.8V590.5H957.9ZM959.7 587.9H961.7V589.8H959.7ZM961.6 587.9H963.5V589.2H961.6ZM963.4 587.9H965.4V589.3H963.4ZM965.3 587.9H967.2V589.5H965.3ZM967.1 587.9H969.1V589.9H967.1ZM969 587.9H971V590.3H969ZM970.9 587.9H972.8V590.7H970.9ZM972.7 587.9H974.7V590.6H972.7ZM974.6 587.9H976.5V590.5H974.6ZM976.4 587.9H978.4V590.4H976.4ZM978.3 587.9H980.2V589.6H978.3ZM1037.7 587.9H1039.6V589.2H1037.7ZM1039.5 587.9H1041.5V589.7H1039.5ZM1041.4 587.9H1043.3V590.3H1041.4ZM1043.2 587.9H1045.2V590.9H1043.2ZM1045.1 587.9H1047V591.6H1045.1ZM1046.9 587.9H1048.9V592.3H1046.9ZM1048.8 587.9H1050.7V592.3H1048.8ZM1050.6 587.9H1052.6V591.7H1050.6ZM1052.5 587.9H1054.5V591.1H1052.5ZM1054.4 587.9H1056.3V590.6H1054.4ZM1056.2 587.9H1058.2V590H1056.2ZM1058.1 587.9H1060V589.7H1058.1ZM1059.9 587.9H1061.9V589.4H1059.9ZM1061.8 587.9H1063.7V589.1H1061.8ZM1063.6 587.9H1065.6V589.6H1063.6ZM1065.5 587.9H1067.4V590.2H1065.5ZM1067.3 587.9H1069.3V591.4H1067.3ZM1069.2 587.9H1071.2V592.6H1069.2ZM1071.1 587.9H1073V593.9H1071.1ZM1072.9 587.9H1074.9V595.1H1072.9ZM1074.8 587.9H1076.7V597.8H1074.8ZM1076.6 587.9H1078.6V600.6H1076.6ZM1078.5 587.9H1080.4V603.8H1078.5ZM1080.3 587.9H1082.3V608H1080.3ZM1082.2 587.9H1084.1V609.8H1082.2ZM1084 587.9H1086V609.9H1084ZM1085.9 587.9H1087.9V609H1085.9ZM1087.8 587.9H1089.7V605.6H1087.8ZM1089.6 587.9H1091.6V602.4H1089.6ZM1091.5 587.9H1093.4V600H1091.5ZM1093.3 587.9H1095.3V599.3H1093.3ZM1095.2 587.9H1097.1V597.5H1095.2ZM1097 587.9H1099V594.7H1097ZM1098.9 587.9H1100.8V592H1098.9ZM1100.7 587.9H1102.7V588.9H1100.7ZM1132.3 587.9H1134.2V590.2H1132.3ZM1134.1 587.9H1136.1V592.9H1134.1ZM1136 587.9H1138V595.7H1136ZM1137.9 587.9H1139.8V598.3H1137.9ZM1139.7 587.9H1141.7V600.5H1139.7ZM1141.6 587.9H1143.5V601.9H1141.6ZM1143.4 587.9H1145.4V601.3H1143.4Z" fill="#e3313a"/>
<path d="M3.1 592.6 L3.9 591.8 L5.5 590.3 L7.2 587.8 L9.1 584.3 L11 581 L12.8 577.9 L14.7 574.9 L16.6 572.1 L18.5 569.8 L20.4 567.9 L22.2 566.5 L24.1 565.5 L26 565.1 L27.9 565.3 L29.8 565.7 L31.6 566.5 L33.5 568 L35.4 570.2 L37.3 572.7 L39.2 575.6 L41 578.8 L42.9 582.6 L44.8 585.9 L46.7 588.7 L48.6 591.1 L50.4 592.9 L52.3 594.7 L54.2 596.2 L56.1 597.5 L58 598.4 L59.8 599.4 L61.7 600.3 L63.6 601.1 L65.5 601.7 L67.4 601.9 L69.2 601.6 L71.1 600.9 L73 600 L74.9 598.7 L76.8 597.2 L78.6 595.3 L80.5 593.1 L82.4 590.9 L84.3 588.7 L86.2 586.7 L88 584.8 L89.9 583.2 L91.8 582 L93.7 580.9 L95.6 579.9 L97.4 579.2 L99.3 578.5 L101.2 578 L103.1 577.6 L104.9 577.2 L106.8 577.1 L108.7 577.1 L110.6 577.4 L112.5 578.2 L114.3 579.5 L116.2 580.9 L118.1 582.4 L120 584 L121.9 585.6 L123.7 587.1 L125.6 588.7 L127.5 590.1 L129.4 591.4 L131.3 592.6 L133.1 593.9 L135 595.1 L136.9 596.4 L138.8 597.6 L140.7 598.9 L142.5 600.2 L144.4 601.4 L146.3 602.5 L148.2 603.4 L150.1 604.2 L151.9 604.8 L153.8 605 L155.7 604.7 L157.6 604.1 L159.5 603.1 L161.3 602.2 L163.2 601.2 L165.1 600.3 L167 599.4 L168.9 598.7 L170.7 598.4 L172.6 598 L174.5 597.3 L176.4 596.2 L178.3 594.7 L180.1 592.9 L182 591.1 L183.9 589.2 L185.8 587.3 L187.7 585.6 L189.5 584 L191.4 583.3 L193.3 583.5 L195.2 584.3 L197.1 585.7 L198.5 587.6 L199.5 590.1 L200.9 591.5 L202.8 591.8 L204.7 592.3 L206.6 592.9 L208.8 593.6 L211.3 594.2 L214.1 594.7 L217.2 595.2 L220.4 595.6 L223.5 596.1 L226.6 596.1 L229.8 595.5 L232.6 595 L235.1 594.7 L237.3 595 L239.2 595.9 L241 597 L242.9 598.3 L244.8 600.2 L246.7 602.7 L248.6 605.3 L250.4 608.1 L252.3 610.6 L254.2 612.8 L256.1 614.7 L258 616.3 L259.8 617.2 L261.7 617.5 L263.6 617.4 L265.5 616.8 L267.4 616.1 L269.2 615.5 L271.1 614.9 L273 614.2 L274.9 613.7 L276.8 613.2 L278.6 613.1 L280.5 613.5 L282.4 613.8 L284.3 614.1 L286.2 614.1 L288 614 L289.9 613.5 L291.8 612.5 L293.7 611.4 L295.6 610.2 L297.4 608.8 L299.3 607.2 L301.2 605.5 L303.1 603.6 L304.9 601.6 L306.8 599.4 L308.7 597.2 L310.6 595 L312.5 592.6 L314.3 590.1 L316.2 587.6 L318.1 585.1 L320 582.9 L321.9 581 L323.7 579.5 L325.6 578.2 L327.5 576.9 L329.4 575.5 L331.3 574.4 L333.1 573.6 L335 573 L336.9 572.6 L338.8 572.3 L340.7 572.3 L342.5 572.5 L344.4 572.7 L346.3 573.4 L348.2 574.5 L350.1 575.9 L351.9 577.4 L353.8 579 L355.7 580.6 L357.6 582.6 L359.5 585.1 L361 587.9 L362.3 591.1 L363.8 594.2 L365.7 597.3 L367.6 600.6 L369.5 604.1 L371.1 607.2 L372.3 610 L373.6 612.5 L374.8 614.7 L376.4 616.6 L378.3 618.2 L380.1 619.3 L382 619.9 L383.9 619.9 L385.8 619.3 L387.7 618.4 L389.5 617.3 L391.4 616.2 L393.3 615.1 L395.2 614.1 L397.1 613.2 L398.5 612.5 L399.5 612.2 L401.3 611.8 L403.8 611.4 L406.3 611.4 L408.8 611.8 L411.3 612.3 L413.8 612.7 L416.3 613 L418.8 613.2 L421.3 612.8 L423.8 611.9 L426.3 610.8 L428.8 609.5 L431.3 608.1 L433.8 606.6 L436.3 604.7 L438.8 602.5 L441.4 600.3 L443.9 598.1 L446.4 595.9 L448.9 593.7 L451.4 591.8 L453.9 590 L456.4 588.9 L458.9 588.5 L461.4 588.2 L463.9 588.2 L466.4 588.7 L468.9 589.5 L471.4 590.1 L473.9 590.5 L476.4 590.9 L478.9 591.2 L481.5 592 L484 593.3 L486.2 594.5 L488 595.8 L489.9 597.3 L491.8 599.2 L493.7 601.2 L495.6 603.4 L497.4 605.6 L499.3 607.8 L501.2 609.5 L503.1 610.6 L504.9 611.2 L506.8 611.4 L508.7 610.8 L510.6 609.5 L512.5 607.8 L514.3 605.6 L516.2 603.1 L518.1 600.3 L520 597.2 L521.9 593.7 L523.7 590.3 L525.6 586.8 L527.5 583.7 L529.4 580.9 L531.3 578.2 L533.1 575.7 L535 573.5 L536.9 571.6 L538.8 569.9 L540.7 568.4 L542.5 567.1 L544.4 566.2 L546.3 565.8 L548.2 566.2 L550.1 567.1 L551.9 568.7 L553.8 570.7 L555.7 573.2 L557.6 577.1 L559.5 582.4 L561 587 L562.3 590.8 L563.5 594.5 L564.8 598.3 L566.4 601.7 L568.2 604.8 L570.1 607.8 L572 610.6 L573.9 613 L575.8 614.9 L577.6 616.1 L579.5 616.8 L581.7 616.8 L584.2 616.4 L586.7 615.9 L589.2 615.4 L591.7 615 L594.2 614.7 L596.6 614.7 L598.9 615 L601.3 614.9 L603.8 614.2 L606.3 613.2 L608.8 611.6 L611 609.7 L612.8 607.5 L614.7 605.2 L616.6 602.7 L618.5 599.8 L620.4 596.7 L622.2 593.6 L624.1 590.4 L626 587.6 L627.9 585.1 L629.8 583.1 L631.6 581.5 L633.5 580.3 L635.4 579.3 L637.3 578.7 L639.2 578.4 L641 578.2 L642.9 578.2 L644.8 578.1 L646.7 577.8 L648.6 577.5 L650.4 577.4 L652.3 577.2 L654.2 577.1 L656.1 577 L658 577 L659.8 576.8 L661.7 576.5 L663.6 576.3 L665.5 576.2 L667.4 576 L669.2 575.8 L671.1 575.7 L673 575.7 L674.9 575.9 L676.8 576.2 L678.6 576.7 L680.5 577.3 L682.4 578.1 L684.3 579 L686.2 579.8 L688 580.4 L689.9 581.4 L691.8 582.6 L693.7 583.5 L695.6 584.2 L697.4 584.5 L699.3 584.5 L701.2 584.3 L703.1 584 L704.9 583.4 L706.8 582.4 L708.7 581 L710.6 579.2 L712.5 577.3 L714.3 575.4 L716.2 573.5 L718.1 571.6 L720 570.1 L721.9 568.8 L723.7 567.6 L725.6 566.3 L727.5 565.2 L729.4 564.3 L731.3 563.7 L733.1 563.3 L735 563.1 L736.9 562.9 L738.8 562.9 L740.7 563.1 L742.5 563.8 L744.4 565.1 L746.3 566.3 L748.2 567.6 L750.1 568.8 L751.9 570.1 L753.8 571.3 L755.7 572.6 L757.6 573.5 L759.5 574.1 L761.3 574.5 L763.2 574.5 L765.1 574.6 L767 574.9 L768.9 575.4 L770.7 576 L772.6 576.7 L774.5 577.3 L776.4 578.2 L778.3 579.5 L780.1 580.9 L782 582.4 L783.9 583.9 L785.8 585.1 L787.7 586.4 L789.5 587.6 L791.4 588.7 L793.3 589.7 L795.2 590.6 L797.1 591.5 L798.5 591.8 L799.5 591.3 L801.3 591.7 L803.8 592.7 L806.3 593.7 L808.8 594.7 L811.3 595.3 L813.8 595.6 L816.3 596.1 L818.8 596.7 L821.3 597.2 L823.8 597.7 L826.3 598 L828.8 598.2 L831.3 598.3 L833.8 598.3 L836 598 L837.9 597.3 L839.8 596.5 L841.7 595.6 L843.5 594.9 L845.4 594.4 L847.3 594.3 L849.2 594.7 L851.1 595.1 L852.9 595.5 L854.8 596.2 L856.7 597.2 L858.6 597.9 L860.5 598.4 L862.3 598.6 L864.2 598.6 L866.1 598.5 L868 598.1 L869.9 597.5 L871.7 596.8 L873.6 595.8 L875.5 594.5 L877.4 593.3 L879.3 592 L881.1 590.8 L883 589.5 L884.9 588.2 L886.8 587 L888.7 585.9 L890.5 585 L892.4 584 L894.3 583.1 L896.2 582 L898.1 580.7 L899.9 579.3 L901.8 577.8 L903.7 575.9 L905.6 573.7 L907.5 571.2 L909.3 568.4 L911.2 565.5 L913.1 562.7 L915 559.9 L916.9 557.1 L918.4 555 L919.7 553.8 L920.9 552.8 L922.2 552.2 L923.4 552.1 L924.7 552.4 L926.3 553.2 L928.1 554.4 L930 556.1 L931.9 558.3 L933.8 560.4 L935.7 562.2 L937.5 564 L939.4 565.5 L941.3 566.8 L943.2 567.7 L945.1 568.8 L946.9 570.1 L948.8 571.2 L950.7 572.3 L952.6 573.3 L954.4 574.3 L956.3 575.2 L958.2 576 L960.1 576.8 L962 577.8 L963.8 578.6 L965.7 579.4 L967.6 580.1 L969.5 580.5 L971.4 580.9 L973.2 581.4 L975.1 581.9 L977 582.4 L978.9 582.9 L980.8 583.4 L982.6 583.5 L984.5 583.3 L986.4 582.9 L988.3 582.3 L990.2 581.5 L992 580.6 L993.9 579.5 L995.8 578.2 L997.6 577.3 L999.2 576.7 L1001.3 575.5 L1003.8 573.7 L1006.3 572.3 L1008.8 571.2 L1011.3 570.5 L1013.8 570 L1016.3 569.9 L1018.8 570 L1021.3 570 L1023.8 569.9 L1026.3 569.7 L1028.8 569.5 L1031.3 569.4 L1033.8 569.4 L1036.3 569.6 L1038.8 569.9 L1041.4 570.2 L1043.9 570.5 L1046.4 571.2 L1048.9 572.3 L1051.4 573.4 L1053.9 574.5 L1056.4 575.5 L1058.9 576.2 L1061.4 576.8 L1063.9 577.3 L1066.4 578.1 L1068.9 579 L1071.1 580.1 L1073 581.4 L1074.9 582.9 L1076.8 584.8 L1078.3 586.8 L1079.6 589 L1080.8 591.7 L1082.1 594.8 L1083.3 598 L1084.6 601.1 L1085.8 603.9 L1087.1 606.4 L1088.3 608.9 L1089.6 611.4 L1090.9 613.9 L1092.1 616.4 L1093.4 618.3 L1094.6 619.4 L1095.9 620.9 L1097.1 622.8 L1098.7 624.7 L1100.6 626.6 L1102.8 628 L1105.3 628.9 L1107.8 628.9 L1110.3 628 L1112.8 626.7 L1115.3 625.2 L1117.8 623.8 L1120.3 622.5 L1122.8 621.4 L1125.3 620.5 L1127.5 619.7 L1129.4 619.1 L1131.3 618.8 L1133.1 618.9 L1135 619.6 L1136.9 620.7 L1139.3 622.6 L1142.1 625.2 L1143.5 626.5" stroke="#e8474f" stroke-width="1" fill="none" stroke-linejoin="round"/>
<path d="M361 625.5L575.6 616.2" stroke="#17208a" stroke-width="2.4" stroke-dasharray="14.4 5.6"/>
<path d="M929 549.6L1063 573.6" stroke="#17208a" stroke-width="2.4" stroke-dasharray="14.4 5.6"/>
<path d="M5 486.3h8.6M5 489.2h8.6M5 492.1h8.6" stroke="#9a9a9a" stroke-width="1.3"/>
<path d="M9.5 485.7h4.1v2.2h-4.1z" fill="#9a9a9a"/>
<path d="M18.2 486.3l5.6 5.6M23.8 486.3l-5.6 5.6" stroke="#9a9a9a" stroke-width="1.9"/>
<text x="27.6" y="492.6" font-size="9.3" fill="#707070" font-weight="normal" text-anchor="start" textLength="91.3" lengthAdjust="spacingAndGlyphs" >SMA [21, 0] 24570.29</text>
<path d="M5 498.5h8.6M5 501.4h8.6M5 504.3h8.6" stroke="#9a9a9a" stroke-width="1.3"/>
<path d="M9.5 497.9h4.1v2.2h-4.1z" fill="#9a9a9a"/>
<path d="M18.2 498.5l5.6 5.6M23.8 498.5l-5.6 5.6" stroke="#9a9a9a" stroke-width="1.9"/>
<text x="27.6" y="504.8" font-size="9.3" fill="#707070" font-weight="normal" text-anchor="start" textLength="86" lengthAdjust="spacingAndGlyphs" >SMA [9, 0] 24469.70</text>
<path d="M5 510.8h8.6M5 513.7h8.6M5 516.6h8.6" stroke="#9a9a9a" stroke-width="1.3"/>
<path d="M9.5 510.2h4.1v2.2h-4.1z" fill="#9a9a9a"/>
<path d="M18.2 510.8l5.6 5.6M23.8 510.8l-5.6 5.6" stroke="#9a9a9a" stroke-width="1.9"/>
<text x="27.6" y="517.1" font-size="9.3" fill="#707070" font-weight="normal" text-anchor="start" textLength="96.8" lengthAdjust="spacingAndGlyphs" >SMA [144, 0] 24769.68</text>
<path d="M5 523.1h8.6M5 526h8.6M5 528.9h8.6" stroke="#9a9a9a" stroke-width="1.3"/>
<path d="M9.5 522.5h4.1v2.2h-4.1z" fill="#9a9a9a"/>
<path d="M18.2 523.1l5.6 5.6M23.8 523.1l-5.6 5.6" stroke="#9a9a9a" stroke-width="1.9"/>
<text x="27.6" y="529.4" font-size="9.3" fill="#707070" font-weight="normal" text-anchor="start" textLength="96.8" lengthAdjust="spacingAndGlyphs" >SMA [169, 0] 24742.65</text>
<path d="M5 535.4h8.6M5 538.3h8.6M5 541.2h8.6" stroke="#9a9a9a" stroke-width="1.3"/>
<path d="M9.5 534.8h4.1v2.2h-4.1z" fill="#9a9a9a"/>
<path d="M18.2 535.4l5.6 5.6M23.8 535.4l-5.6 5.6" stroke="#9a9a9a" stroke-width="1.9"/>
<text x="27.6" y="541.7" font-size="9.3" fill="#707070" font-weight="normal" text-anchor="start" textLength="113.5" lengthAdjust="spacingAndGlyphs" >Fractals [15] n/a, n/a, 0.00</text>
<path d="M5 692.9h8.6M5 695.8h8.6M5 698.7h8.6" stroke="#9a9a9a" stroke-width="1.3"/>
<path d="M9.5 692.3h4.1v2.2h-4.1z" fill="#9a9a9a"/>
<path d="M18.2 692.9l5.6 5.6M23.8 692.9l-5.6 5.6" stroke="#9a9a9a" stroke-width="1.9"/>
<text x="27.6" y="699.2" font-size="9.3" fill="#707070" font-weight="normal" text-anchor="start" textLength="165" lengthAdjust="spacingAndGlyphs" >MACD [12, 26, 9] -88.05013, -65.96398</text>
<text x="3.6" y="713.4" font-size="11.5" fill="#3f3f3f" font-weight="normal" text-anchor="start" textLength="88.6" lengthAdjust="spacingAndGlyphs" >10.03.2026 11:45</text>
<text x="120.2" y="713.4" font-size="11.5" fill="#3f3f3f" font-weight="normal" text-anchor="start" textLength="27.8" lengthAdjust="spacingAndGlyphs" >03:30</text>
<text x="237.2" y="713.4" font-size="11.5" fill="#3f3f3f" font-weight="normal" text-anchor="start" textLength="27.8" lengthAdjust="spacingAndGlyphs" >19:15</text>
<text x="354.2" y="713.4" font-size="11.5" fill="#3f3f3f" font-weight="normal" text-anchor="start" textLength="27.8" lengthAdjust="spacingAndGlyphs" >10:00</text>
<text x="471.2" y="713.4" font-size="11.5" fill="#3f3f3f" font-weight="normal" text-anchor="start" textLength="27.8" lengthAdjust="spacingAndGlyphs" >01:45</text>
<text x="588.2" y="713.4" font-size="11.5" fill="#3f3f3f" font-weight="normal" text-anchor="start" textLength="27.8" lengthAdjust="spacingAndGlyphs" >16:30</text>
<text x="705.2" y="713.4" font-size="11.5" fill="#3f3f3f" font-weight="normal" text-anchor="start" textLength="27.8" lengthAdjust="spacingAndGlyphs" >08:15</text>
<text x="822.2" y="713.4" font-size="11.5" fill="#3f3f3f" font-weight="normal" text-anchor="start" textLength="27.8" lengthAdjust="spacingAndGlyphs" >00:00</text>
<text x="939.2" y="713.4" font-size="11.5" fill="#3f3f3f" font-weight="normal" text-anchor="start" textLength="27.8" lengthAdjust="spacingAndGlyphs" >14:45</text>
<text x="1056.2" y="713.4" font-size="11.5" fill="#3f3f3f" font-weight="normal" text-anchor="start" textLength="27.8" lengthAdjust="spacingAndGlyphs" >06:30</text>
<text x="1173.2" y="713.4" font-size="11.5" fill="#3f3f3f" font-weight="normal" text-anchor="start" textLength="27.8" lengthAdjust="spacingAndGlyphs" >21:15</text>
<text x="1290.2" y="713.4" font-size="11.5" fill="#3f3f3f" font-weight="normal" text-anchor="start" textLength="27.8" lengthAdjust="spacingAndGlyphs" >12:00</text>
<text x="1407.2" y="713.4" font-size="11.5" fill="#3f3f3f" font-weight="normal" text-anchor="start" textLength="27.8" lengthAdjust="spacingAndGlyphs" >02:45</text>
<text x="1524.2" y="713.4" font-size="11.5" fill="#3f3f3f" font-weight="normal" text-anchor="start" textLength="27.8" lengthAdjust="spacingAndGlyphs" >17:30</text>
<rect x="7" y="0" width="149" height="20" fill="#fff" fill-opacity="0.88"/>
<rect x="7" y="20" width="395" height="20.5" fill="#fff" fill-opacity="0.88"/>
<text x="18" y="13" font-size="10.6" fill="#333" font-weight="bold" text-anchor="start" textLength="30.8" lengthAdjust="spacingAndGlyphs" >US100</text>
<text x="52.8" y="12.4" font-size="6.4" fill="#7a7a7a" font-weight="normal" text-anchor="start" textLength="12.6" lengthAdjust="spacingAndGlyphs" >CFD</text>
<path d="M74.4 7.6h6.2l-3.1 3.3z" fill="#6b6b6b"/>
<circle cx="97" cy="9" r="5.1" fill="#707070"/>
<path d="M97 5.6v1.3M97 8.2v4" stroke="#fff" stroke-width="1.5"/>
<rect x="113.5" y="2.6" width="37.5" height="12.8" rx="1.5" fill="#fff" stroke="#e0e0e0" stroke-width="1"/>
<text x="117.2" y="12.6" font-size="9.6" fill="#6f6f6f" font-weight="normal" text-anchor="start" textLength="17.4" lengthAdjust="spacingAndGlyphs" >M15</text>
<path d="M141 7.6h6.4l-3.2 3.3z" fill="#777"/>
<rect x="18" y="24.4" width="43.2" height="13.2" rx="1.3" fill="#ee3350"/>
<text x="39.6" y="34.4" font-size="9.6" fill="#fff" font-weight="bold" text-anchor="middle" textLength="36.5" lengthAdjust="spacingAndGlyphs" >24386.32</text>
<rect x="66" y="24.6" width="139" height="12.8" rx="1.3" fill="#fff" stroke="#e2e2e2" stroke-width="1"/>
<path d="M79.5 24.6v12.8M191 24.6v12.8" stroke="#e6e6e6" stroke-width="1"/>
<path d="M69.3 31h6.4" stroke="#555" stroke-width="1.3"/>
<path d="M194.8 31h6.4M198 27.8v6.4" stroke="#444" stroke-width="1.3"/>
<text x="128" y="34.2" font-size="9.4" fill="#333" font-weight="bold" text-anchor="middle" >8</text>
<g stroke="#c4c4c4" stroke-width="1" fill="none"><path d="M173.4 29.4h5.4l-1.6-1.6M179.6 32.6h-5.4l1.6 1.6"/></g>
<rect x="210" y="24.4" width="43.4" height="13.2" rx="1.3" fill="#20b072"/>
<text x="231.7" y="34.4" font-size="9.6" fill="#fff" font-weight="bold" text-anchor="middle" textLength="36.5" lengthAdjust="spacingAndGlyphs" >24388.74</text>
<text x="261.6" y="34.2" font-size="9.4" fill="#7a7a7a" font-weight="normal" text-anchor="start" textLength="24.6" lengthAdjust="spacingAndGlyphs" >SL/TP</text>
<g stroke="#222" fill="none" stroke-width="1"><path d="M299.4 33.6L302.4 29L305.7 31L309.5 28.4"/></g>
<g fill="#222"><circle cx="299.4" cy="33.6" r="0.9"/><circle cx="302.4" cy="29" r="0.7"/><circle cx="305.7" cy="31" r="0.7"/><circle cx="309.5" cy="28.4" r="0.9"/></g>
<g fill="none"><path d="M321.9 25v11M329.2 26v8" stroke="#aaa" stroke-width="0.8"/><rect x="320.8" y="26.2" width="2.2" height="6.6" fill="#bbb"/><rect x="328.2" y="28" width="2" height="3.8" fill="#999"/><path d="M325.4 27v9.6" stroke="#222" stroke-width="0.9"/><rect x="324.4" y="30" width="2" height="4" fill="#fff" stroke="#222" stroke-width="0.8"/></g>
<path d="M334 36.4v2.2h-2.6z" fill="#222"/>
<g stroke="#555" fill="none" stroke-width="1"><circle cx="345.8" cy="29.4" r="4.6"/><path d="M349.2 32.8L352.6 36.4M343.6 29.4h4.4"/></g>
<g stroke="#555" fill="none" stroke-width="1"><circle cx="366.8" cy="29.4" r="4.6"/><path d="M370.2 32.8L373.7 36.4M364.6 29.4h4.4M366.8 27.2v4.4"/></g>
<g stroke="#555" fill="none" stroke-width="0.9"><path d="M384.4 31h10.6M389.7 25.8v10.4M388.4 27.2l1.3-1.5 1.3 1.5M388.4 34.8l1.3 1.5 1.3-1.5M385.8 29.7l-1.5 1.3 1.5 1.3M393.6 29.7l1.5 1.3-1.5 1.3"/></g>
<path d="M398.2 36.4v2.2h-2.6z" fill="#222"/>
<rect x="1574.7" y="0" width="7.3" height="6.7" fill="#fff" stroke="#c4c9c9" stroke-width="0.6"/><rect x="1574.7" y="0" width="7.3" height="2.8" fill="#aab2b2"/><rect x="1574.7" y="5.4" width="7.3" height="1.3" fill="#9da3a3"/>
<path d="M1586.4 0L1592.7 6M1592.7 0L1586.4 6" stroke="#a6adad" stroke-width="1.2"/>
</svg>
</body>
</html>
